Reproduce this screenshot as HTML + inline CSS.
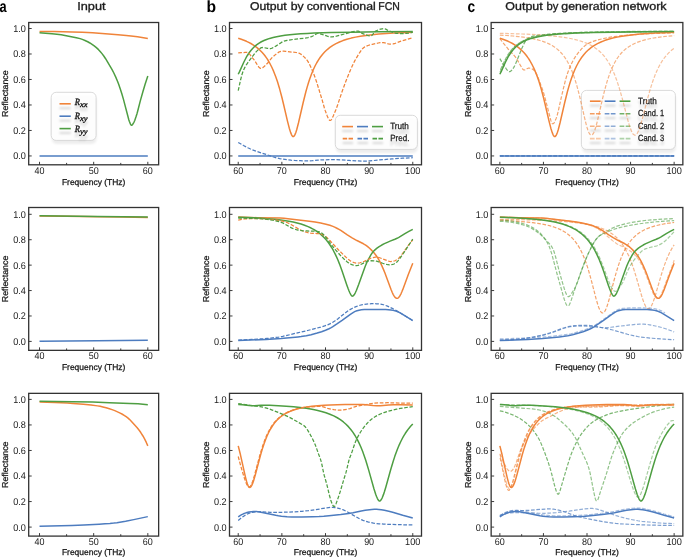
<!DOCTYPE html><html><head><meta charset="utf-8"><style>html,body{margin:0;padding:0;background:#fff;overflow:hidden}svg{display:block;will-change:transform;text-rendering:geometricPrecision}</style></head><body><svg width="685" height="557" viewBox="0 0 685 557">
<defs><filter id="sh" x="-20%" y="-200%" width="140%" height="500%"><feGaussianBlur stdDeviation="1.0"/></filter><filter id="sh2" x="-20%" y="-50%" width="140%" height="200%"><feGaussianBlur stdDeviation="1.1"/></filter>
<clipPath id="cpa0"><rect x="28.70" y="22.50" width="129.95" height="142.30"/></clipPath>
<clipPath id="cpa1"><rect x="28.70" y="207.50" width="129.95" height="142.85"/></clipPath>
<clipPath id="cpa2"><rect x="28.70" y="393.35" width="129.95" height="142.75"/></clipPath>
<clipPath id="cpb0"><rect x="229.50" y="22.50" width="192.00" height="142.30"/></clipPath>
<clipPath id="cpb1"><rect x="229.50" y="207.50" width="192.00" height="142.85"/></clipPath>
<clipPath id="cpb2"><rect x="229.50" y="393.35" width="192.00" height="142.75"/></clipPath>
<clipPath id="cpc0"><rect x="491.15" y="22.50" width="191.70" height="142.30"/></clipPath>
<clipPath id="cpc1"><rect x="491.15" y="207.50" width="191.70" height="142.85"/></clipPath>
<clipPath id="cpc2"><rect x="491.15" y="393.35" width="191.70" height="142.75"/></clipPath>
</defs>
<rect width="685" height="557" fill="#ffffff"/>
<text x="-0.52" y="11.50" font-size="16.20" text-anchor="start" font-weight="bold" font-style="normal" font-family='"Liberation Sans", sans-serif' fill="#000" textLength="7.11" lengthAdjust="spacingAndGlyphs">a</text>
<text x="206.38" y="11.50" font-size="16.20" text-anchor="start" font-weight="bold" font-style="normal" font-family='"Liberation Sans", sans-serif' fill="#000" textLength="9.56" lengthAdjust="spacingAndGlyphs">b</text>
<text x="467.62" y="11.50" font-size="16.20" text-anchor="start" font-weight="bold" font-style="normal" font-family='"Liberation Sans", sans-serif' fill="#000" textLength="7.64" lengthAdjust="spacingAndGlyphs">c</text>
<text x="77.25" y="10.10" font-size="11.30" text-anchor="start" font-weight="normal" font-style="normal" font-family='"Liberation Sans", sans-serif' fill="#1a1a1a" textLength="28.30" lengthAdjust="spacingAndGlyphs" stroke="#1a1a1a" stroke-width="0.32">Input</text>
<text x="249.95" y="9.95" font-size="11.30" text-anchor="start" font-weight="normal" font-style="normal" font-family='"Liberation Sans", sans-serif' fill="#1a1a1a" textLength="36.78" lengthAdjust="spacingAndGlyphs" stroke="#1a1a1a" stroke-width="0.32">Output</text>
<text x="290.66" y="9.95" font-size="11.30" text-anchor="start" font-weight="normal" font-style="normal" font-family='"Liberation Sans", sans-serif' fill="#1a1a1a" textLength="12.95" lengthAdjust="spacingAndGlyphs" stroke="#1a1a1a" stroke-width="0.32">by</text>
<text x="306.71" y="9.95" font-size="11.30" text-anchor="start" font-weight="normal" font-style="normal" font-family='"Liberation Sans", sans-serif' fill="#1a1a1a" textLength="69.03" lengthAdjust="spacingAndGlyphs" stroke="#1a1a1a" stroke-width="0.32">conventional</text>
<text x="378.26" y="9.95" font-size="11.30" text-anchor="start" font-weight="normal" font-style="normal" font-family='"Liberation Sans", sans-serif' fill="#1a1a1a" textLength="21.53" lengthAdjust="spacingAndGlyphs" stroke="#1a1a1a" stroke-width="0.32">FCN</text>
<text x="505.34" y="9.95" font-size="11.30" text-anchor="start" font-weight="normal" font-style="normal" font-family='"Liberation Sans", sans-serif' fill="#1a1a1a" textLength="37.38" lengthAdjust="spacingAndGlyphs" stroke="#1a1a1a" stroke-width="0.32">Output</text>
<text x="546.62" y="9.95" font-size="11.30" text-anchor="start" font-weight="normal" font-style="normal" font-family='"Liberation Sans", sans-serif' fill="#1a1a1a" textLength="11.89" lengthAdjust="spacingAndGlyphs" stroke="#1a1a1a" stroke-width="0.32">by</text>
<text x="561.31" y="9.95" font-size="11.30" text-anchor="start" font-weight="normal" font-style="normal" font-family='"Liberation Sans", sans-serif' fill="#1a1a1a" textLength="58.25" lengthAdjust="spacingAndGlyphs" stroke="#1a1a1a" stroke-width="0.32">generation</text>
<text x="622.58" y="9.95" font-size="11.30" text-anchor="start" font-weight="normal" font-style="normal" font-family='"Liberation Sans", sans-serif' fill="#1a1a1a" textLength="44.07" lengthAdjust="spacingAndGlyphs" stroke="#1a1a1a" stroke-width="0.32">network</text>
<rect x="51.70" y="95.80" width="44.90" height="48.10" rx="5" fill="#000" fill-opacity="0.07" filter="url(#sh2)"/>
<rect x="51.20" y="92.30" width="44.90" height="48.10" rx="5" fill="#ffffff" fill-opacity="0.85" stroke="#d0d0d0" stroke-width="0.8"/>
<rect x="59.50" y="107.30" width="11.30" height="1.8" fill="#000" fill-opacity="0.16" filter="url(#sh)"/>
<path d="M59.50 103.80H70.80" stroke="#f0843a" stroke-width="1.6" stroke-opacity="1.00"/>
<g opacity="0.13" filter="url(#sh2)" fill="#000" stroke="#000" stroke-width="0.50" font-style="italic" font-family='"Liberation Serif", serif'>
<text x="74.70" y="109.20" font-size="9.6" textLength="5.2" lengthAdjust="spacingAndGlyphs">R</text>
<text x="79.90" y="111.40" font-size="7.6" textLength="7.6" lengthAdjust="spacingAndGlyphs">xx</text>
</g>
<g opacity="1.00" fill="#111111" stroke="#111111" stroke-width="0.32" font-style="italic" font-family='"Liberation Serif", serif'>
<text x="74.70" y="104.80" font-size="9.6" textLength="5.2" lengthAdjust="spacingAndGlyphs">R</text>
<text x="79.90" y="107.00" font-size="7.6" textLength="7.6" lengthAdjust="spacingAndGlyphs">xx</text>
</g>
<rect x="59.50" y="119.70" width="11.30" height="1.8" fill="#000" fill-opacity="0.16" filter="url(#sh)"/>
<path d="M59.50 116.20H70.80" stroke="#4d7cbf" stroke-width="1.6" stroke-opacity="1.00"/>
<g opacity="0.13" filter="url(#sh2)" fill="#000" stroke="#000" stroke-width="0.50" font-style="italic" font-family='"Liberation Serif", serif'>
<text x="74.70" y="122.90" font-size="9.6" textLength="5.2" lengthAdjust="spacingAndGlyphs">R</text>
<text x="79.90" y="125.10" font-size="7.6" textLength="7.6" lengthAdjust="spacingAndGlyphs">xy</text>
</g>
<g opacity="1.00" fill="#111111" stroke="#111111" stroke-width="0.32" font-style="italic" font-family='"Liberation Serif", serif'>
<text x="74.70" y="118.50" font-size="9.6" textLength="5.2" lengthAdjust="spacingAndGlyphs">R</text>
<text x="79.90" y="120.70" font-size="7.6" textLength="7.6" lengthAdjust="spacingAndGlyphs">xy</text>
</g>
<rect x="59.50" y="132.10" width="11.30" height="1.8" fill="#000" fill-opacity="0.16" filter="url(#sh)"/>
<path d="M59.50 128.60H70.80" stroke="#4e9e42" stroke-width="1.6" stroke-opacity="1.00"/>
<g opacity="0.13" filter="url(#sh2)" fill="#000" stroke="#000" stroke-width="0.50" font-style="italic" font-family='"Liberation Serif", serif'>
<text x="74.70" y="136.50" font-size="9.6" textLength="5.2" lengthAdjust="spacingAndGlyphs">R</text>
<text x="79.90" y="138.70" font-size="7.6" textLength="7.6" lengthAdjust="spacingAndGlyphs">yy</text>
</g>
<g opacity="1.00" fill="#111111" stroke="#111111" stroke-width="0.32" font-style="italic" font-family='"Liberation Serif", serif'>
<text x="74.70" y="132.10" font-size="9.6" textLength="5.2" lengthAdjust="spacingAndGlyphs">R</text>
<text x="79.90" y="134.30" font-size="7.6" textLength="7.6" lengthAdjust="spacingAndGlyphs">yy</text>
</g>
<g clip-path="url(#cpa0)" fill="none" stroke-linejoin="round" stroke-linecap="butt">
<path d="M39.53 31.43L54.15 31.59L72.02 31.94L82.30 32.29L92.59 32.87L118.04 34.73L126.16 35.44L131.04 35.99L137.53 36.86L147.82 38.44" stroke="#f0843a" stroke-width="1.50"/>
<path d="M39.53 155.95L147.82 155.95" stroke="#4d7cbf" stroke-width="1.50"/>
<path d="M39.53 32.71L45.49 33.16L51.98 33.75L56.86 34.26L61.19 34.82L64.98 35.48L76.35 37.73L80.14 38.61L82.30 39.35L85.01 40.49L87.72 41.78L89.88 42.98L92.05 44.35L94.22 45.91L96.38 47.67L98.55 49.67L100.17 51.41L101.80 53.39L103.96 56.28L105.59 58.72L110.46 66.84L112.08 69.65L113.71 72.73L115.87 77.37L117.50 81.23L118.58 84.05L120.21 88.73L121.83 93.79L123.46 99.38L128.87 120.00L129.41 121.54L130.49 124.09L131.04 125.00L131.58 125.36L132.12 125.10L132.66 124.42L133.74 122.56L134.28 121.49L134.83 120.17L135.91 117.08L136.99 113.66L137.53 111.72L140.24 101.13L142.95 91.44L145.11 84.23L147.82 75.91" stroke="#4e9e42" stroke-width="1.50"/>
</g>
<rect x="28.70" y="22.50" width="129.95" height="142.30" fill="none" stroke="#333333" stroke-width="1.3"/>
<path d="M39.53 164.80V161.80M93.68 164.80V161.80M147.82 164.80V161.80M66.60 164.80V162.90M120.75 164.80V162.90M28.70 155.95H31.70M28.70 130.46H31.70M28.70 104.97H31.70M28.70 79.48H31.70M28.70 53.99H31.70M28.70 28.50H31.70" stroke="#333333" stroke-width="0.95" fill="none"/>
<text x="25.90" y="159.35" font-size="9.80" text-anchor="end" font-weight="normal" font-style="normal" font-family='"Liberation Sans", sans-serif' fill="#1a1a1a" textLength="12.70" lengthAdjust="spacingAndGlyphs">0.0</text>
<text x="25.90" y="133.86" font-size="9.80" text-anchor="end" font-weight="normal" font-style="normal" font-family='"Liberation Sans", sans-serif' fill="#1a1a1a" textLength="12.70" lengthAdjust="spacingAndGlyphs">0.2</text>
<text x="25.90" y="108.37" font-size="9.80" text-anchor="end" font-weight="normal" font-style="normal" font-family='"Liberation Sans", sans-serif' fill="#1a1a1a" textLength="12.70" lengthAdjust="spacingAndGlyphs">0.4</text>
<text x="25.90" y="82.88" font-size="9.80" text-anchor="end" font-weight="normal" font-style="normal" font-family='"Liberation Sans", sans-serif' fill="#1a1a1a" textLength="12.70" lengthAdjust="spacingAndGlyphs">0.6</text>
<text x="25.90" y="57.39" font-size="9.80" text-anchor="end" font-weight="normal" font-style="normal" font-family='"Liberation Sans", sans-serif' fill="#1a1a1a" textLength="12.70" lengthAdjust="spacingAndGlyphs">0.8</text>
<text x="25.90" y="31.90" font-size="9.80" text-anchor="end" font-weight="normal" font-style="normal" font-family='"Liberation Sans", sans-serif' fill="#1a1a1a" textLength="12.70" lengthAdjust="spacingAndGlyphs">1.0</text>
<text x="39.53" y="173.80" font-size="9.80" text-anchor="middle" font-weight="normal" font-style="normal" font-family='"Liberation Sans", sans-serif' fill="#1a1a1a" textLength="10.00" lengthAdjust="spacingAndGlyphs">40</text>
<text x="93.68" y="173.80" font-size="9.80" text-anchor="middle" font-weight="normal" font-style="normal" font-family='"Liberation Sans", sans-serif' fill="#1a1a1a" textLength="10.00" lengthAdjust="spacingAndGlyphs">50</text>
<text x="147.82" y="173.80" font-size="9.80" text-anchor="middle" font-weight="normal" font-style="normal" font-family='"Liberation Sans", sans-serif' fill="#1a1a1a" textLength="10.00" lengthAdjust="spacingAndGlyphs">60</text>
<text x="93.67" y="184.90" font-size="8.60" text-anchor="middle" font-weight="normal" font-style="normal" font-family='"Liberation Sans", sans-serif' fill="#1a1a1a" textLength="63.50" lengthAdjust="spacingAndGlyphs" stroke="#1a1a1a" stroke-width="0.28">Frequency (THz)</text>
<text transform="translate(8.10 93.65) rotate(-90)" font-size="8.6" text-anchor="middle" font-family='"Liberation Sans", sans-serif' fill="#1a1a1a" stroke="#1a1a1a" stroke-width="0.28" textLength="46.5" lengthAdjust="spacingAndGlyphs">Reflectance</text>
<g clip-path="url(#cpa1)" fill="none" stroke-linejoin="round" stroke-linecap="butt">
<path d="M39.53 216.08L66.60 216.29L98.55 216.65L121.83 217.00L147.82 217.48" stroke="#f0843a" stroke-width="1.50"/>
<path d="M39.53 341.15L96.92 340.74L147.82 340.26" stroke="#4d7cbf" stroke-width="1.50"/>
<path d="M39.53 215.83L97.47 216.38L147.82 217.10" stroke="#4e9e42" stroke-width="1.50"/>
</g>
<rect x="28.70" y="207.50" width="129.95" height="142.85" fill="none" stroke="#333333" stroke-width="1.3"/>
<path d="M39.53 350.35V347.35M93.68 350.35V347.35M147.82 350.35V347.35M66.60 350.35V348.45M120.75 350.35V348.45M28.70 341.40H31.70M28.70 315.98H31.70M28.70 290.56H31.70M28.70 265.14H31.70M28.70 239.72H31.70M28.70 214.30H31.70" stroke="#333333" stroke-width="0.95" fill="none"/>
<text x="25.90" y="344.80" font-size="9.80" text-anchor="end" font-weight="normal" font-style="normal" font-family='"Liberation Sans", sans-serif' fill="#1a1a1a" textLength="12.70" lengthAdjust="spacingAndGlyphs">0.0</text>
<text x="25.90" y="319.38" font-size="9.80" text-anchor="end" font-weight="normal" font-style="normal" font-family='"Liberation Sans", sans-serif' fill="#1a1a1a" textLength="12.70" lengthAdjust="spacingAndGlyphs">0.2</text>
<text x="25.90" y="293.96" font-size="9.80" text-anchor="end" font-weight="normal" font-style="normal" font-family='"Liberation Sans", sans-serif' fill="#1a1a1a" textLength="12.70" lengthAdjust="spacingAndGlyphs">0.4</text>
<text x="25.90" y="268.54" font-size="9.80" text-anchor="end" font-weight="normal" font-style="normal" font-family='"Liberation Sans", sans-serif' fill="#1a1a1a" textLength="12.70" lengthAdjust="spacingAndGlyphs">0.6</text>
<text x="25.90" y="243.12" font-size="9.80" text-anchor="end" font-weight="normal" font-style="normal" font-family='"Liberation Sans", sans-serif' fill="#1a1a1a" textLength="12.70" lengthAdjust="spacingAndGlyphs">0.8</text>
<text x="25.90" y="217.70" font-size="9.80" text-anchor="end" font-weight="normal" font-style="normal" font-family='"Liberation Sans", sans-serif' fill="#1a1a1a" textLength="12.70" lengthAdjust="spacingAndGlyphs">1.0</text>
<text x="39.53" y="359.35" font-size="9.80" text-anchor="middle" font-weight="normal" font-style="normal" font-family='"Liberation Sans", sans-serif' fill="#1a1a1a" textLength="10.00" lengthAdjust="spacingAndGlyphs">40</text>
<text x="93.68" y="359.35" font-size="9.80" text-anchor="middle" font-weight="normal" font-style="normal" font-family='"Liberation Sans", sans-serif' fill="#1a1a1a" textLength="10.00" lengthAdjust="spacingAndGlyphs">50</text>
<text x="147.82" y="359.35" font-size="9.80" text-anchor="middle" font-weight="normal" font-style="normal" font-family='"Liberation Sans", sans-serif' fill="#1a1a1a" textLength="10.00" lengthAdjust="spacingAndGlyphs">60</text>
<text x="93.67" y="370.30" font-size="8.60" text-anchor="middle" font-weight="normal" font-style="normal" font-family='"Liberation Sans", sans-serif' fill="#1a1a1a" textLength="63.50" lengthAdjust="spacingAndGlyphs" stroke="#1a1a1a" stroke-width="0.28">Frequency (THz)</text>
<text transform="translate(8.10 278.93) rotate(-90)" font-size="8.6" text-anchor="middle" font-family='"Liberation Sans", sans-serif' fill="#1a1a1a" stroke="#1a1a1a" stroke-width="0.28" textLength="46.5" lengthAdjust="spacingAndGlyphs">Reflectance</text>
<g clip-path="url(#cpa2)" fill="none" stroke-linejoin="round" stroke-linecap="butt">
<path d="M39.53 401.95L54.69 402.40L67.14 403.01L73.10 403.42L83.39 404.27L90.97 405.00L97.47 405.88L100.17 406.35L102.88 406.92L106.13 407.76L109.38 408.73L112.08 409.63L114.79 410.66L117.50 411.82L120.21 413.10L122.37 414.26L124.54 415.56L126.16 416.66L127.79 417.87L129.41 419.33L131.04 421.01L136.99 427.57L139.16 430.27L140.78 432.55L142.95 435.99L144.57 438.88L146.20 442.19L147.82 445.88" stroke="#f0843a" stroke-width="1.50"/>
<path d="M39.53 526.33L72.02 525.42L83.93 525.00L99.09 524.25L105.05 523.86L109.92 523.47L113.71 523.08L116.96 522.65L125.62 521.22L133.74 519.62L147.82 516.63" stroke="#4d7cbf" stroke-width="1.50"/>
<path d="M39.53 401.32L72.56 401.65L92.59 402.03L109.38 402.70L129.95 403.39L138.07 403.86L147.82 404.64" stroke="#4e9e42" stroke-width="1.50"/>
</g>
<rect x="28.70" y="393.35" width="129.95" height="142.75" fill="none" stroke="#333333" stroke-width="1.3"/>
<path d="M39.53 536.10V533.10M93.68 536.10V533.10M147.82 536.10V533.10M66.60 536.10V534.20M120.75 536.10V534.20M28.70 527.10H31.70M28.70 501.56H31.70M28.70 476.02H31.70M28.70 450.48H31.70M28.70 424.94H31.70M28.70 399.40H31.70" stroke="#333333" stroke-width="0.95" fill="none"/>
<text x="25.90" y="530.50" font-size="9.80" text-anchor="end" font-weight="normal" font-style="normal" font-family='"Liberation Sans", sans-serif' fill="#1a1a1a" textLength="12.70" lengthAdjust="spacingAndGlyphs">0.0</text>
<text x="25.90" y="504.96" font-size="9.80" text-anchor="end" font-weight="normal" font-style="normal" font-family='"Liberation Sans", sans-serif' fill="#1a1a1a" textLength="12.70" lengthAdjust="spacingAndGlyphs">0.2</text>
<text x="25.90" y="479.42" font-size="9.80" text-anchor="end" font-weight="normal" font-style="normal" font-family='"Liberation Sans", sans-serif' fill="#1a1a1a" textLength="12.70" lengthAdjust="spacingAndGlyphs">0.4</text>
<text x="25.90" y="453.88" font-size="9.80" text-anchor="end" font-weight="normal" font-style="normal" font-family='"Liberation Sans", sans-serif' fill="#1a1a1a" textLength="12.70" lengthAdjust="spacingAndGlyphs">0.6</text>
<text x="25.90" y="428.34" font-size="9.80" text-anchor="end" font-weight="normal" font-style="normal" font-family='"Liberation Sans", sans-serif' fill="#1a1a1a" textLength="12.70" lengthAdjust="spacingAndGlyphs">0.8</text>
<text x="25.90" y="402.80" font-size="9.80" text-anchor="end" font-weight="normal" font-style="normal" font-family='"Liberation Sans", sans-serif' fill="#1a1a1a" textLength="12.70" lengthAdjust="spacingAndGlyphs">1.0</text>
<text x="39.53" y="545.10" font-size="9.80" text-anchor="middle" font-weight="normal" font-style="normal" font-family='"Liberation Sans", sans-serif' fill="#1a1a1a" textLength="10.00" lengthAdjust="spacingAndGlyphs">40</text>
<text x="93.68" y="545.10" font-size="9.80" text-anchor="middle" font-weight="normal" font-style="normal" font-family='"Liberation Sans", sans-serif' fill="#1a1a1a" textLength="10.00" lengthAdjust="spacingAndGlyphs">50</text>
<text x="147.82" y="545.10" font-size="9.80" text-anchor="middle" font-weight="normal" font-style="normal" font-family='"Liberation Sans", sans-serif' fill="#1a1a1a" textLength="10.00" lengthAdjust="spacingAndGlyphs">60</text>
<text x="93.67" y="555.00" font-size="8.60" text-anchor="middle" font-weight="normal" font-style="normal" font-family='"Liberation Sans", sans-serif' fill="#1a1a1a" textLength="63.50" lengthAdjust="spacingAndGlyphs" stroke="#1a1a1a" stroke-width="0.28">Frequency (THz)</text>
<text transform="translate(8.10 464.73) rotate(-90)" font-size="8.6" text-anchor="middle" font-family='"Liberation Sans", sans-serif' fill="#1a1a1a" stroke="#1a1a1a" stroke-width="0.28" textLength="46.5" lengthAdjust="spacingAndGlyphs">Reflectance</text>
<rect x="335.80" y="118.80" width="82.10" height="34.10" rx="5" fill="#000" fill-opacity="0.07" filter="url(#sh2)"/>
<rect x="335.30" y="115.30" width="82.10" height="34.10" rx="5" fill="#ffffff" fill-opacity="0.85" stroke="#d0d0d0" stroke-width="0.8"/>
<rect x="342.20" y="130.10" width="10.80" height="1.8" fill="#000" fill-opacity="0.16" filter="url(#sh)"/>
<path d="M342.20 126.60H353.00" stroke="#f0843a" stroke-width="1.6" stroke-opacity="1.00"/>
<rect x="357.00" y="130.10" width="11.00" height="1.8" fill="#000" fill-opacity="0.16" filter="url(#sh)"/>
<path d="M357.00 126.60H368.00" stroke="#4d7cbf" stroke-width="1.6" stroke-opacity="1.00"/>
<rect x="372.00" y="130.10" width="11.00" height="1.8" fill="#000" fill-opacity="0.16" filter="url(#sh)"/>
<path d="M372.00 126.60H383.00" stroke="#4e9e42" stroke-width="1.6" stroke-opacity="1.00"/>
<rect x="342.70" y="142.10" width="10.30" height="1.8" fill="#000" fill-opacity="0.16" filter="url(#sh)"/>
<path d="M342.70 138.60H347.15M348.55 138.60H353.00" stroke="#f0843a" stroke-width="1.55" stroke-opacity="1.00"/>
<rect x="357.50" y="142.10" width="10.50" height="1.8" fill="#000" fill-opacity="0.16" filter="url(#sh)"/>
<path d="M357.50 138.60H362.05M363.45 138.60H368.00" stroke="#4d7cbf" stroke-width="1.55" stroke-opacity="1.00"/>
<rect x="372.50" y="142.10" width="10.50" height="1.8" fill="#000" fill-opacity="0.16" filter="url(#sh)"/>
<path d="M372.50 138.60H377.05M378.45 138.60H383.00" stroke="#4e9e42" stroke-width="1.55" stroke-opacity="1.00"/>
<text x="390.20" y="133.50" font-size="9.00" text-anchor="start" font-weight="normal" font-style="normal" font-family='"Liberation Sans", sans-serif' fill="#000" textLength="18.70" lengthAdjust="spacingAndGlyphs" opacity="0.13" stroke="#000" stroke-width="0.5" filter="url(#sh2)">Truth</text>
<text x="390.20" y="129.10" font-size="9.00" text-anchor="start" font-weight="normal" font-style="normal" font-family='"Liberation Sans", sans-serif' fill="#1a1a1a" textLength="18.70" lengthAdjust="spacingAndGlyphs" stroke="#1a1a1a" stroke-width="0.25">Truth</text>
<text x="390.20" y="145.80" font-size="9.00" text-anchor="start" font-weight="normal" font-style="normal" font-family='"Liberation Sans", sans-serif' fill="#000" textLength="19.20" lengthAdjust="spacingAndGlyphs" opacity="0.13" stroke="#000" stroke-width="0.5" filter="url(#sh2)">Pred.</text>
<text x="390.20" y="141.40" font-size="9.00" text-anchor="start" font-weight="normal" font-style="normal" font-family='"Liberation Sans", sans-serif' fill="#1a1a1a" textLength="19.20" lengthAdjust="spacingAndGlyphs" stroke="#1a1a1a" stroke-width="0.25">Pred.</text>
<g clip-path="url(#cpb0)" fill="none" stroke-linejoin="round" stroke-linecap="butt">
<path d="M238.23 38.22L241.28 39.22L243.90 40.20L246.52 41.31L248.70 42.35L250.88 43.51L253.06 44.82L255.25 46.30L256.99 47.62L258.74 49.08L260.48 50.70L262.23 52.51L263.97 54.54L265.72 56.81L267.03 58.69L268.34 60.75L269.65 63.01L271.83 67.25L273.57 71.15L275.75 76.73L277.50 81.84L279.68 89.08L281.86 97.28L283.61 104.45L287.54 121.35L289.28 128.16L290.59 132.39L291.46 134.56L291.90 135.42L292.34 136.09L292.77 136.52L293.21 136.62L293.65 136.60L294.08 136.12L294.52 135.48L294.95 134.63L295.83 132.44L296.70 129.69L298.45 123.04L303.25 102.22L305.86 91.78L307.17 87.08L308.48 82.74L309.79 78.76L311.54 73.97L313.28 69.75L315.03 66.02L316.77 62.74L318.52 59.83L320.26 57.27L322.45 54.46L324.63 52.04L327.25 49.55L329.86 47.44L332.92 45.37L335.97 43.63L339.46 41.96L342.95 40.58L346.88 39.28L351.25 38.10L355.61 37.12L360.41 36.24L366.08 35.39L372.19 34.66L378.74 34.04L386.15 33.49L394.01 33.03L402.74 32.63L412.77 32.29" stroke="#f0843a" stroke-width="1.50"/>
<path d="M238.23 155.95L412.77 155.95" stroke="#4d7cbf" stroke-width="1.50"/>
<path d="M238.23 74.25L239.54 71.66L243.90 62.01L246.08 57.74L247.39 55.47L249.14 52.78L250.88 50.46L252.63 48.45L254.37 46.71L256.55 44.86L258.74 43.31L261.35 41.77L263.97 40.49L266.59 39.43L269.65 38.41L273.14 37.46L276.63 36.68L280.55 35.97L284.92 35.33L289.72 34.76L294.95 34.27L300.63 33.84L307.17 33.45L314.15 33.11L331.17 32.55L352.12 32.13L378.74 31.82L412.77 31.58" stroke="#4e9e42" stroke-width="1.50"/>
<path d="M238.23 52.97L241.28 52.60L245.21 52.46L246.95 52.46L247.39 52.51L247.83 52.67L248.26 52.92L249.14 53.64L250.01 54.59L252.63 58.03L253.94 59.61L255.25 61.53L257.43 65.12L258.74 66.96L259.61 67.84L260.05 68.14L260.48 68.33L260.92 68.39L261.35 68.35L262.23 68.03L262.66 67.78L263.54 67.12L267.46 63.30L268.34 62.27L270.95 58.89L272.26 57.44L275.75 54.38L277.06 53.32L278.81 52.13L280.12 51.52L281.43 51.21L283.61 51.24L285.79 51.42L296.26 52.50L298.01 52.81L298.88 53.10L300.19 53.76L301.50 54.64L302.81 55.71L304.55 57.37L306.30 59.22L307.17 60.31L308.05 61.64L309.35 64.03L310.66 66.75L311.97 69.69L313.28 72.74L314.15 74.95L315.46 78.58L316.77 82.50L322.01 99.49L324.19 107.28L325.06 110.14L327.25 116.03L328.12 118.13L328.55 119.00L328.99 119.71L329.43 120.21L329.86 120.48L330.30 120.49L330.74 120.27L331.17 119.86L331.61 119.28L332.48 117.71L333.35 115.75L335.97 109.44L337.72 104.74L341.65 92.82L345.14 83.17L346.45 79.74L348.19 75.46L350.37 70.25L352.12 66.27L353.43 63.48L354.74 60.90L355.61 59.32L358.23 54.91L359.54 52.79L360.85 50.83L362.15 49.12L363.03 48.17L363.90 47.41L364.77 46.85L366.52 46.05L368.70 45.26L372.19 44.32L378.30 43.00L380.05 42.69L381.79 42.53L382.66 42.53L383.54 42.62L384.85 42.88L388.34 43.82L390.08 44.13L391.39 44.17L393.14 43.92L395.32 43.29L400.99 41.12L412.77 37.80" stroke="#f0843a" stroke-width="1.25" stroke-dasharray="3.7 1.65"/>
<path d="M238.23 142.44L243.46 145.51L247.83 147.78L250.01 148.79L252.19 149.71L257.43 151.62L266.15 154.45L273.57 157.01L277.06 158.05L279.68 158.64L282.74 159.16L287.10 159.76L291.03 160.18L294.52 160.43L300.19 160.70L304.99 160.86L308.92 160.90L312.41 160.74L318.08 160.14L321.14 159.92L328.99 159.71L335.97 159.66L340.34 159.82L349.06 160.45L358.23 160.98L362.15 161.13L365.65 161.14L370.01 160.89L379.61 159.91L391.83 158.91L402.74 158.22L412.77 157.73" stroke="#4d7cbf" stroke-width="1.25" stroke-dasharray="3.7 1.65"/>
<path d="M238.23 90.70L240.41 80.65L241.28 77.11L242.15 74.00L243.03 71.39L243.46 70.30L244.34 68.41L245.21 66.73L246.52 64.54L247.83 62.63L253.50 55.03L255.25 52.83L256.55 51.36L257.86 50.13L260.05 48.42L260.92 47.86L261.35 47.67L261.79 47.54L262.23 47.49L263.10 47.53L264.41 47.71L267.46 48.34L268.77 48.55L270.08 48.64L270.95 48.53L272.26 48.04L276.19 45.87L277.50 45.06L281.43 42.40L282.74 41.67L284.05 41.12L287.10 40.38L290.59 39.78L295.83 39.10L304.12 38.30L306.30 37.97L308.05 37.61L309.79 37.17L311.54 36.63L312.85 35.97L315.90 34.10L316.77 33.72L317.65 33.50L318.08 33.47L318.95 33.54L320.26 33.83L323.75 34.87L327.25 36.10L328.99 36.63L330.74 36.90L332.05 36.88L334.23 36.62L336.41 36.13L341.21 34.79L345.14 33.82L350.37 32.30L352.99 31.63L355.61 31.18L357.79 31.05L358.23 31.09L359.10 31.42L362.15 33.40L365.21 34.60L366.95 35.20L368.26 35.56L369.57 35.80L370.88 35.89L371.32 35.80L371.75 35.53L372.19 35.13L374.81 31.75L375.25 31.33L375.68 31.05L378.30 29.89L380.48 29.15L382.23 28.77L383.97 28.63L384.85 28.76L385.72 29.11L388.34 30.65L389.21 31.05L393.57 32.59L395.32 33.06L396.63 33.29L398.81 33.50L400.55 33.59L404.48 33.50L406.66 33.33L408.85 33.07L411.03 32.70L412.77 32.32" stroke="#4e9e42" stroke-width="1.25" stroke-dasharray="3.7 1.65"/>
</g>
<rect x="229.50" y="22.50" width="192.00" height="142.30" fill="none" stroke="#333333" stroke-width="1.3"/>
<path d="M238.23 164.80V161.80M281.86 164.80V161.80M325.50 164.80V161.80M369.14 164.80V161.80M412.77 164.80V161.80M260.05 164.80V162.90M303.68 164.80V162.90M347.32 164.80V162.90M390.95 164.80V162.90M229.50 155.95H232.50M229.50 130.46H232.50M229.50 104.97H232.50M229.50 79.48H232.50M229.50 53.99H232.50M229.50 28.50H232.50" stroke="#333333" stroke-width="0.95" fill="none"/>
<text x="226.70" y="159.35" font-size="9.80" text-anchor="end" font-weight="normal" font-style="normal" font-family='"Liberation Sans", sans-serif' fill="#1a1a1a" textLength="12.70" lengthAdjust="spacingAndGlyphs">0.0</text>
<text x="226.70" y="133.86" font-size="9.80" text-anchor="end" font-weight="normal" font-style="normal" font-family='"Liberation Sans", sans-serif' fill="#1a1a1a" textLength="12.70" lengthAdjust="spacingAndGlyphs">0.2</text>
<text x="226.70" y="108.37" font-size="9.80" text-anchor="end" font-weight="normal" font-style="normal" font-family='"Liberation Sans", sans-serif' fill="#1a1a1a" textLength="12.70" lengthAdjust="spacingAndGlyphs">0.4</text>
<text x="226.70" y="82.88" font-size="9.80" text-anchor="end" font-weight="normal" font-style="normal" font-family='"Liberation Sans", sans-serif' fill="#1a1a1a" textLength="12.70" lengthAdjust="spacingAndGlyphs">0.6</text>
<text x="226.70" y="57.39" font-size="9.80" text-anchor="end" font-weight="normal" font-style="normal" font-family='"Liberation Sans", sans-serif' fill="#1a1a1a" textLength="12.70" lengthAdjust="spacingAndGlyphs">0.8</text>
<text x="226.70" y="31.90" font-size="9.80" text-anchor="end" font-weight="normal" font-style="normal" font-family='"Liberation Sans", sans-serif' fill="#1a1a1a" textLength="12.70" lengthAdjust="spacingAndGlyphs">1.0</text>
<text x="238.23" y="173.80" font-size="9.80" text-anchor="middle" font-weight="normal" font-style="normal" font-family='"Liberation Sans", sans-serif' fill="#1a1a1a" textLength="10.00" lengthAdjust="spacingAndGlyphs">60</text>
<text x="281.86" y="173.80" font-size="9.80" text-anchor="middle" font-weight="normal" font-style="normal" font-family='"Liberation Sans", sans-serif' fill="#1a1a1a" textLength="10.00" lengthAdjust="spacingAndGlyphs">70</text>
<text x="325.50" y="173.80" font-size="9.80" text-anchor="middle" font-weight="normal" font-style="normal" font-family='"Liberation Sans", sans-serif' fill="#1a1a1a" textLength="10.00" lengthAdjust="spacingAndGlyphs">80</text>
<text x="369.14" y="173.80" font-size="9.80" text-anchor="middle" font-weight="normal" font-style="normal" font-family='"Liberation Sans", sans-serif' fill="#1a1a1a" textLength="10.00" lengthAdjust="spacingAndGlyphs">90</text>
<text x="412.77" y="173.80" font-size="9.80" text-anchor="middle" font-weight="normal" font-style="normal" font-family='"Liberation Sans", sans-serif' fill="#1a1a1a" textLength="15.30" lengthAdjust="spacingAndGlyphs">100</text>
<text x="325.50" y="184.90" font-size="8.60" text-anchor="middle" font-weight="normal" font-style="normal" font-family='"Liberation Sans", sans-serif' fill="#1a1a1a" textLength="63.50" lengthAdjust="spacingAndGlyphs" stroke="#1a1a1a" stroke-width="0.28">Frequency (THz)</text>
<text transform="translate(208.90 93.65) rotate(-90)" font-size="8.6" text-anchor="middle" font-family='"Liberation Sans", sans-serif' fill="#1a1a1a" stroke="#1a1a1a" stroke-width="0.28" textLength="46.5" lengthAdjust="spacingAndGlyphs">Reflectance</text>
<g clip-path="url(#cpb1)" fill="none" stroke-linejoin="round" stroke-linecap="butt">
<path d="M238.23 217.10L257.43 217.70L280.12 218.09L284.05 218.28L287.97 218.66L309.35 221.20L315.03 222.04L320.70 223.06L325.94 224.17L329.86 225.23L332.92 226.36L334.66 227.14L336.85 228.22L339.03 229.40L340.77 230.45L347.32 234.91L351.68 237.59L356.92 240.53L363.46 243.78L365.65 245.09L367.39 246.37L369.57 248.25L371.75 250.40L373.94 252.79L376.12 255.54L377.86 258.13L379.61 261.18L381.79 265.64L383.54 269.60L384.85 272.82L386.59 277.41L390.95 289.33L392.26 292.52L393.14 294.36L394.01 295.91L394.88 297.12L395.75 297.94L396.19 298.19L396.63 298.33L397.06 298.36L397.50 298.27L397.94 298.07L398.37 297.75L398.81 297.33L399.68 296.18L400.99 293.78L401.86 291.82L402.74 289.65L408.41 274.34L412.77 263.23" stroke="#f0843a" stroke-width="1.50"/>
<path d="M238.23 340.51L266.15 339.46L273.57 339.05L280.99 338.53L298.01 336.90L301.06 336.55L306.30 335.72L311.10 334.68L317.21 333.04L321.57 331.70L325.50 330.27L328.99 328.74L330.74 327.83L332.48 326.81L337.28 323.71L342.08 320.37L350.37 314.32L353.43 312.30L355.17 311.41L356.92 310.74L359.10 310.16L361.28 309.82L364.34 309.59L369.57 309.41L374.37 309.38L380.48 309.44L385.72 309.57L388.34 309.71L390.95 309.99L393.14 310.37L394.88 310.79L396.63 311.33L398.37 312.02L399.68 312.64L401.43 313.62L407.54 317.43L412.77 320.56" stroke="#4d7cbf" stroke-width="1.50"/>
<path d="M238.23 217.37L246.52 217.58L253.94 217.86L260.92 218.21L267.46 218.64L273.57 219.16L278.81 219.72L284.05 220.41L288.85 221.19L293.21 222.05L297.14 222.97L301.06 224.07L304.55 225.24L308.05 226.62L311.10 228.05L314.15 229.71L316.77 231.38L319.39 233.30L321.57 235.14L323.75 237.22L325.94 239.60L328.12 242.31L329.86 244.75L331.61 247.47L333.35 250.49L335.10 253.85L336.41 256.60L337.72 259.57L339.46 263.86L342.08 270.96L346.88 285.15L348.19 288.81L349.06 291.03L349.94 293.01L350.81 294.63L351.25 295.27L351.68 295.76L352.12 296.06L352.55 296.15L352.99 296.01L353.43 295.68L354.30 294.56L355.17 293.03L356.48 290.19L358.66 284.56L364.77 267.41L365.65 265.20L366.95 262.25L368.70 258.80L370.88 254.93L372.19 252.93L373.50 251.32L375.25 249.61L376.99 248.16L379.17 246.61L381.79 245.02L384.41 243.67L387.90 242.09L390.08 241.17L394.88 239.28L397.06 238.29L399.25 237.09L404.92 233.60L408.85 231.40L412.77 229.30" stroke="#4e9e42" stroke-width="1.50"/>
<path d="M238.23 220.15L241.72 219.30L243.03 219.08L244.77 218.90L250.01 218.71L257.86 218.63L262.66 218.74L267.46 219.05L274.01 219.69L278.37 220.31L280.99 220.81L283.61 221.44L285.79 222.10L287.54 222.76L289.28 223.57L291.46 224.73L297.57 228.37L299.75 229.57L302.81 230.99L305.43 231.96L308.05 232.71L310.66 233.21L312.85 233.42L316.77 233.53L318.52 233.64L320.26 233.91L322.01 234.43L323.32 235.02L324.63 235.81L325.94 236.79L327.68 238.33L330.30 240.97L335.54 246.77L338.59 250.00L344.70 256.06L347.75 258.90L349.94 260.57L350.81 261.12L352.12 261.82L353.43 262.38L354.30 262.67L356.05 263.03L357.35 263.10L358.66 263.00L359.97 262.77L361.72 262.30L363.03 261.84L364.34 261.30L368.70 259.16L370.88 258.25L373.06 257.56L374.37 257.29L375.25 257.18L376.12 257.15L377.43 257.25L378.30 257.40L379.61 257.74L382.23 258.66L387.46 260.76L388.77 261.17L389.65 261.37L390.95 261.51L392.26 261.44L393.57 261.18L394.88 260.72L395.75 260.31L396.63 259.81L397.94 258.86L399.25 257.64L400.55 256.19L402.74 253.36L408.85 244.69L412.77 239.72" stroke="#f0843a" stroke-width="1.25" stroke-dasharray="3.7 1.65"/>
<path d="M238.23 340.00L251.75 339.45L263.10 338.78L267.03 338.46L270.95 338.06L278.81 337.01L282.74 336.33L287.10 335.37L298.45 332.62L307.61 330.51L320.70 327.10L324.63 325.92L327.68 324.82L330.30 323.66L332.48 322.47L335.10 320.83L337.72 318.97L344.26 313.71L347.75 311.07L349.94 309.64L352.55 308.19L354.30 307.37L356.05 306.63L358.23 305.81L359.97 305.25L362.59 304.63L366.52 304.07L369.14 303.83L371.75 303.70L373.94 303.69L376.55 303.80L379.61 304.06L381.79 304.37L383.54 304.76L385.28 305.31L387.46 306.17L390.08 307.32L392.26 308.38L394.88 309.77L398.81 312.06L412.77 320.56" stroke="#4d7cbf" stroke-width="1.25" stroke-dasharray="3.7 1.65"/>
<path d="M238.23 218.11L249.14 218.28L260.05 218.71L262.66 218.91L265.72 219.23L269.21 219.70L272.70 220.25L275.32 220.73L277.94 221.31L280.12 221.92L281.86 222.54L283.17 223.11L284.48 223.79L289.28 226.69L291.46 227.87L293.65 228.83L296.26 229.65L298.01 230.04L299.75 230.36L303.25 230.76L306.74 230.94L314.59 231.18L316.77 231.33L318.52 231.64L319.83 232.07L321.14 232.74L322.01 233.32L322.88 234.03L324.19 235.33L325.94 237.43L331.61 244.99L335.54 249.82L338.15 252.86L340.34 255.27L342.08 257.09L344.26 259.23L346.01 260.82L347.32 261.92L348.63 262.89L349.94 263.71L351.25 264.37L352.55 264.89L353.86 265.28L355.17 265.52L356.05 265.58L356.92 265.56L357.79 265.45L359.10 265.13L361.28 264.25L365.21 262.24L366.95 261.47L368.70 260.97L369.57 260.84L370.88 260.74L373.94 260.78L375.25 260.91L376.55 261.15L378.74 261.78L382.66 263.25L384.85 263.99L386.59 264.48L387.90 264.74L389.65 264.89L390.95 264.81L392.70 264.46L394.01 263.98L395.32 263.26L396.63 262.24L397.94 260.89L399.25 259.26L400.99 256.83L404.05 252.35L412.77 239.08" stroke="#4e9e42" stroke-width="1.25" stroke-dasharray="3.7 1.65"/>
</g>
<rect x="229.50" y="207.50" width="192.00" height="142.85" fill="none" stroke="#333333" stroke-width="1.3"/>
<path d="M238.23 350.35V347.35M281.86 350.35V347.35M325.50 350.35V347.35M369.14 350.35V347.35M412.77 350.35V347.35M260.05 350.35V348.45M303.68 350.35V348.45M347.32 350.35V348.45M390.95 350.35V348.45M229.50 341.40H232.50M229.50 315.98H232.50M229.50 290.56H232.50M229.50 265.14H232.50M229.50 239.72H232.50M229.50 214.30H232.50" stroke="#333333" stroke-width="0.95" fill="none"/>
<text x="226.70" y="344.80" font-size="9.80" text-anchor="end" font-weight="normal" font-style="normal" font-family='"Liberation Sans", sans-serif' fill="#1a1a1a" textLength="12.70" lengthAdjust="spacingAndGlyphs">0.0</text>
<text x="226.70" y="319.38" font-size="9.80" text-anchor="end" font-weight="normal" font-style="normal" font-family='"Liberation Sans", sans-serif' fill="#1a1a1a" textLength="12.70" lengthAdjust="spacingAndGlyphs">0.2</text>
<text x="226.70" y="293.96" font-size="9.80" text-anchor="end" font-weight="normal" font-style="normal" font-family='"Liberation Sans", sans-serif' fill="#1a1a1a" textLength="12.70" lengthAdjust="spacingAndGlyphs">0.4</text>
<text x="226.70" y="268.54" font-size="9.80" text-anchor="end" font-weight="normal" font-style="normal" font-family='"Liberation Sans", sans-serif' fill="#1a1a1a" textLength="12.70" lengthAdjust="spacingAndGlyphs">0.6</text>
<text x="226.70" y="243.12" font-size="9.80" text-anchor="end" font-weight="normal" font-style="normal" font-family='"Liberation Sans", sans-serif' fill="#1a1a1a" textLength="12.70" lengthAdjust="spacingAndGlyphs">0.8</text>
<text x="226.70" y="217.70" font-size="9.80" text-anchor="end" font-weight="normal" font-style="normal" font-family='"Liberation Sans", sans-serif' fill="#1a1a1a" textLength="12.70" lengthAdjust="spacingAndGlyphs">1.0</text>
<text x="238.23" y="359.35" font-size="9.80" text-anchor="middle" font-weight="normal" font-style="normal" font-family='"Liberation Sans", sans-serif' fill="#1a1a1a" textLength="10.00" lengthAdjust="spacingAndGlyphs">60</text>
<text x="281.86" y="359.35" font-size="9.80" text-anchor="middle" font-weight="normal" font-style="normal" font-family='"Liberation Sans", sans-serif' fill="#1a1a1a" textLength="10.00" lengthAdjust="spacingAndGlyphs">70</text>
<text x="325.50" y="359.35" font-size="9.80" text-anchor="middle" font-weight="normal" font-style="normal" font-family='"Liberation Sans", sans-serif' fill="#1a1a1a" textLength="10.00" lengthAdjust="spacingAndGlyphs">80</text>
<text x="369.14" y="359.35" font-size="9.80" text-anchor="middle" font-weight="normal" font-style="normal" font-family='"Liberation Sans", sans-serif' fill="#1a1a1a" textLength="10.00" lengthAdjust="spacingAndGlyphs">90</text>
<text x="412.77" y="359.35" font-size="9.80" text-anchor="middle" font-weight="normal" font-style="normal" font-family='"Liberation Sans", sans-serif' fill="#1a1a1a" textLength="15.30" lengthAdjust="spacingAndGlyphs">100</text>
<text x="325.50" y="370.30" font-size="8.60" text-anchor="middle" font-weight="normal" font-style="normal" font-family='"Liberation Sans", sans-serif' fill="#1a1a1a" textLength="63.50" lengthAdjust="spacingAndGlyphs" stroke="#1a1a1a" stroke-width="0.28">Frequency (THz)</text>
<text transform="translate(208.90 278.93) rotate(-90)" font-size="8.6" text-anchor="middle" font-family='"Liberation Sans", sans-serif' fill="#1a1a1a" stroke="#1a1a1a" stroke-width="0.28" textLength="46.5" lengthAdjust="spacingAndGlyphs">Reflectance</text>
<g clip-path="url(#cpb2)" fill="none" stroke-linejoin="round" stroke-linecap="butt">
<path d="M238.23 445.90L240.41 454.54L244.77 474.15L245.65 477.83L246.52 481.14L247.39 483.92L248.26 486.02L248.70 486.75L249.14 487.24L249.57 487.43L250.01 487.45L250.45 487.17L250.88 486.74L251.75 485.36L252.63 483.40L253.50 480.97L255.25 475.09L260.48 455.27L262.66 447.90L263.97 443.93L265.72 439.18L267.03 436.01L268.77 432.25L270.52 428.98L272.70 425.49L274.45 423.11L276.63 420.55L278.81 418.39L280.12 417.25L281.43 416.22L284.05 414.43L287.10 412.71L290.15 411.31L293.65 410.01L297.57 408.85L301.94 407.84L306.74 406.98L311.97 406.28L317.65 405.70L324.19 405.22L330.30 404.91L337.28 404.66L345.14 404.49L352.99 404.41L358.23 404.45L362.59 404.61L366.08 404.87L373.06 405.54L376.99 405.73L380.48 405.64L388.77 405.00L393.57 404.79L400.12 404.78L412.77 404.99" stroke="#f0843a" stroke-width="1.50"/>
<path d="M238.23 516.88L240.41 515.45L241.72 514.69L243.46 513.82L245.21 513.12L246.95 512.56L249.14 512.04L251.32 511.70L253.50 511.52L255.25 511.49L256.55 511.53L257.86 511.65L259.61 511.90L262.23 512.41L275.75 515.33L278.37 515.79L281.43 516.19L287.10 516.74L291.90 517.04L296.26 517.12L301.94 517.06L312.41 516.82L318.95 516.59L323.75 516.31L328.99 515.83L340.77 514.51L348.63 513.45L352.99 512.69L361.28 510.91L365.21 510.26L371.75 509.52L374.37 509.34L376.55 509.30L378.74 509.39L381.35 509.71L384.41 510.28L388.77 511.24L392.70 512.28L402.74 515.29L412.77 518.03" stroke="#4d7cbf" stroke-width="1.50"/>
<path d="M238.23 404.40L242.59 404.68L249.14 405.46L251.75 405.66L254.37 405.66L260.92 405.22L264.41 405.13L269.65 405.26L278.37 405.69L286.23 406.20L293.65 406.83L300.19 407.52L306.30 408.34L311.97 409.28L316.77 410.25L321.57 411.44L325.94 412.76L329.86 414.19L333.79 415.91L337.28 417.76L340.34 419.68L343.39 421.95L346.01 424.23L348.63 426.89L350.81 429.46L352.99 432.39L355.17 435.75L357.35 439.61L359.10 443.11L360.85 447.01L362.59 451.34L364.34 456.14L365.65 460.04L366.95 464.20L368.70 470.10L373.94 488.74L375.68 494.23L376.55 496.56L377.43 498.53L378.30 500.02L378.74 500.54L379.17 500.94L380.05 500.94L380.48 500.62L380.92 500.10L381.79 498.64L382.23 497.73L383.54 494.39L384.41 491.77L385.72 487.43L390.52 470.21L393.14 461.43L394.88 456.11L396.19 452.43L397.50 449.00L399.25 444.83L400.55 441.97L402.30 438.51L403.61 436.15L405.35 433.29L407.10 430.72L408.85 428.41L410.59 426.33L412.77 424.02" stroke="#4e9e42" stroke-width="1.50"/>
<path d="M238.23 456.48L239.97 463.14L241.72 469.36L244.34 478.06L245.65 481.82L246.52 483.84L247.39 485.41L247.83 486.03L248.26 486.52L248.70 486.85L249.14 486.98L249.57 486.90L250.01 486.61L250.45 486.12L250.88 485.46L251.75 483.69L252.63 481.42L253.50 478.75L254.37 475.78L259.17 457.70L260.48 453.03L261.79 448.67L263.10 444.65L264.85 439.82L266.15 436.59L267.90 432.76L269.65 429.42L271.83 425.86L273.57 423.43L275.75 420.82L277.94 418.62L279.25 417.46L280.55 416.41L283.17 414.58L286.23 412.83L288.85 411.60L291.46 410.55L294.52 409.53L297.57 408.69L300.19 408.07L302.81 407.56L305.43 407.26L309.79 406.88L316.77 406.49L319.83 406.43L321.57 406.50L322.45 406.64L323.32 406.85L327.68 408.37L331.61 409.23L333.79 409.63L335.97 409.94L338.15 410.10L339.90 410.09L341.65 409.99L343.39 409.80L347.75 409.11L349.94 408.55L354.74 406.79L356.05 406.38L357.35 406.05L359.97 405.55L366.08 404.56L371.32 403.52L373.94 403.17L380.48 402.85L387.46 402.72L391.39 402.77L401.43 403.09L412.77 403.10" stroke="#f0843a" stroke-width="1.25" stroke-dasharray="3.7 1.65"/>
<path d="M238.23 520.46L240.85 518.30L242.59 516.99L244.77 515.52L246.95 514.23L248.70 513.39L250.45 512.75L252.19 512.32L253.94 512.03L256.99 511.75L260.05 511.71L262.66 511.82L270.08 512.30L275.32 512.40L286.66 512.19L294.08 511.88L301.94 511.31L308.48 510.68L315.90 509.68L323.32 508.36L326.81 507.84L330.30 507.48L332.92 507.42L335.10 507.61L337.72 508.12L340.77 509.00L343.39 509.94L345.14 510.70L346.88 511.58L356.05 516.82L359.10 518.49L361.28 519.59L363.03 520.36L365.21 521.16L367.83 521.93L370.45 522.57L373.50 523.16L376.12 523.53L379.17 523.81L383.54 524.10L389.65 524.38L397.50 524.63L405.79 524.83L412.77 524.93" stroke="#4d7cbf" stroke-width="1.25" stroke-dasharray="3.7 1.65"/>
<path d="M238.23 403.74L248.26 405.07L256.12 406.04L260.05 406.61L264.41 407.45L266.59 408.04L268.77 408.75L272.26 410.05L282.30 414.07L285.79 415.57L289.28 417.23L293.21 419.33L298.88 422.66L302.37 424.62L304.12 425.81L305.43 427.03L306.30 428.10L307.61 430.06L309.79 433.78L311.54 436.94L312.85 439.49L314.15 442.27L315.46 445.36L316.34 447.68L318.52 453.96L320.26 458.57L321.14 461.32L322.01 465.01L323.32 471.50L324.19 475.25L326.81 484.41L329.43 495.26L330.74 500.02L331.61 502.59L332.48 504.64L332.92 505.45L333.35 506.07L333.79 506.45L334.23 506.54L334.66 506.30L335.10 505.74L335.54 504.92L335.97 503.90L337.72 499.16L339.03 495.33L340.77 489.79L343.83 479.31L346.01 472.40L346.88 469.05L348.19 463.31L349.06 459.91L349.94 457.27L351.25 453.98L352.12 451.57L354.74 443.70L355.61 441.50L356.48 439.54L357.79 436.88L359.10 434.45L360.41 432.24L361.72 430.23L364.34 426.66L366.52 424.03L368.26 422.14L370.01 420.47L371.75 419.02L373.94 417.46L376.12 416.09L378.30 414.90L380.92 413.72L383.97 412.57L387.46 411.48L391.83 410.30L396.63 409.17L400.55 408.37L404.05 407.79L408.41 407.17L412.77 406.68" stroke="#4e9e42" stroke-width="1.25" stroke-dasharray="3.7 1.65"/>
</g>
<rect x="229.50" y="393.35" width="192.00" height="142.75" fill="none" stroke="#333333" stroke-width="1.3"/>
<path d="M238.23 536.10V533.10M281.86 536.10V533.10M325.50 536.10V533.10M369.14 536.10V533.10M412.77 536.10V533.10M260.05 536.10V534.20M303.68 536.10V534.20M347.32 536.10V534.20M390.95 536.10V534.20M229.50 527.10H232.50M229.50 501.56H232.50M229.50 476.02H232.50M229.50 450.48H232.50M229.50 424.94H232.50M229.50 399.40H232.50" stroke="#333333" stroke-width="0.95" fill="none"/>
<text x="226.70" y="530.50" font-size="9.80" text-anchor="end" font-weight="normal" font-style="normal" font-family='"Liberation Sans", sans-serif' fill="#1a1a1a" textLength="12.70" lengthAdjust="spacingAndGlyphs">0.0</text>
<text x="226.70" y="504.96" font-size="9.80" text-anchor="end" font-weight="normal" font-style="normal" font-family='"Liberation Sans", sans-serif' fill="#1a1a1a" textLength="12.70" lengthAdjust="spacingAndGlyphs">0.2</text>
<text x="226.70" y="479.42" font-size="9.80" text-anchor="end" font-weight="normal" font-style="normal" font-family='"Liberation Sans", sans-serif' fill="#1a1a1a" textLength="12.70" lengthAdjust="spacingAndGlyphs">0.4</text>
<text x="226.70" y="453.88" font-size="9.80" text-anchor="end" font-weight="normal" font-style="normal" font-family='"Liberation Sans", sans-serif' fill="#1a1a1a" textLength="12.70" lengthAdjust="spacingAndGlyphs">0.6</text>
<text x="226.70" y="428.34" font-size="9.80" text-anchor="end" font-weight="normal" font-style="normal" font-family='"Liberation Sans", sans-serif' fill="#1a1a1a" textLength="12.70" lengthAdjust="spacingAndGlyphs">0.8</text>
<text x="226.70" y="402.80" font-size="9.80" text-anchor="end" font-weight="normal" font-style="normal" font-family='"Liberation Sans", sans-serif' fill="#1a1a1a" textLength="12.70" lengthAdjust="spacingAndGlyphs">1.0</text>
<text x="238.23" y="545.10" font-size="9.80" text-anchor="middle" font-weight="normal" font-style="normal" font-family='"Liberation Sans", sans-serif' fill="#1a1a1a" textLength="10.00" lengthAdjust="spacingAndGlyphs">60</text>
<text x="281.86" y="545.10" font-size="9.80" text-anchor="middle" font-weight="normal" font-style="normal" font-family='"Liberation Sans", sans-serif' fill="#1a1a1a" textLength="10.00" lengthAdjust="spacingAndGlyphs">70</text>
<text x="325.50" y="545.10" font-size="9.80" text-anchor="middle" font-weight="normal" font-style="normal" font-family='"Liberation Sans", sans-serif' fill="#1a1a1a" textLength="10.00" lengthAdjust="spacingAndGlyphs">80</text>
<text x="369.14" y="545.10" font-size="9.80" text-anchor="middle" font-weight="normal" font-style="normal" font-family='"Liberation Sans", sans-serif' fill="#1a1a1a" textLength="10.00" lengthAdjust="spacingAndGlyphs">90</text>
<text x="412.77" y="545.10" font-size="9.80" text-anchor="middle" font-weight="normal" font-style="normal" font-family='"Liberation Sans", sans-serif' fill="#1a1a1a" textLength="15.30" lengthAdjust="spacingAndGlyphs">100</text>
<text x="325.50" y="555.00" font-size="8.60" text-anchor="middle" font-weight="normal" font-style="normal" font-family='"Liberation Sans", sans-serif' fill="#1a1a1a" textLength="63.50" lengthAdjust="spacingAndGlyphs" stroke="#1a1a1a" stroke-width="0.28">Frequency (THz)</text>
<text transform="translate(208.90 464.73) rotate(-90)" font-size="8.6" text-anchor="middle" font-family='"Liberation Sans", sans-serif' fill="#1a1a1a" stroke="#1a1a1a" stroke-width="0.28" textLength="46.5" lengthAdjust="spacingAndGlyphs">Reflectance</text>
<rect x="581.90" y="93.90" width="94.00" height="59.00" rx="5" fill="#000" fill-opacity="0.07" filter="url(#sh2)"/>
<rect x="581.40" y="90.40" width="94.00" height="59.00" rx="5" fill="#ffffff" fill-opacity="0.85" stroke="#d0d0d0" stroke-width="0.8"/>
<rect x="589.90" y="104.70" width="10.80" height="1.8" fill="#000" fill-opacity="0.16" filter="url(#sh)"/>
<path d="M589.90 101.20H600.70" stroke="#f0843a" stroke-width="1.6" stroke-opacity="1.00"/>
<rect x="604.70" y="104.70" width="10.80" height="1.8" fill="#000" fill-opacity="0.16" filter="url(#sh)"/>
<path d="M604.70 101.20H615.50" stroke="#4d7cbf" stroke-width="1.6" stroke-opacity="1.00"/>
<rect x="619.60" y="104.70" width="10.80" height="1.8" fill="#000" fill-opacity="0.16" filter="url(#sh)"/>
<path d="M619.60 101.20H630.40" stroke="#4e9e42" stroke-width="1.6" stroke-opacity="1.00"/>
<rect x="589.90" y="117.20" width="10.80" height="1.8" fill="#000" fill-opacity="0.16" filter="url(#sh)"/>
<path d="M589.90 113.70H594.60M596.00 113.70H600.70" stroke="#f0843a" stroke-width="1.55" stroke-opacity="0.80"/>
<rect x="604.70" y="117.20" width="10.80" height="1.8" fill="#000" fill-opacity="0.16" filter="url(#sh)"/>
<path d="M604.70 113.70H609.40M610.80 113.70H615.50" stroke="#4d7cbf" stroke-width="1.55" stroke-opacity="0.80"/>
<rect x="619.60" y="117.20" width="10.80" height="1.8" fill="#000" fill-opacity="0.16" filter="url(#sh)"/>
<path d="M619.60 113.70H624.30M625.70 113.70H630.40" stroke="#4e9e42" stroke-width="1.55" stroke-opacity="0.80"/>
<rect x="589.90" y="129.70" width="10.80" height="1.8" fill="#000" fill-opacity="0.16" filter="url(#sh)"/>
<path d="M589.90 126.20H594.60M596.00 126.20H600.70" stroke="#f0843a" stroke-width="1.55" stroke-opacity="0.62"/>
<rect x="604.70" y="129.70" width="10.80" height="1.8" fill="#000" fill-opacity="0.16" filter="url(#sh)"/>
<path d="M604.70 126.20H609.40M610.80 126.20H615.50" stroke="#4d7cbf" stroke-width="1.55" stroke-opacity="0.62"/>
<rect x="619.60" y="129.70" width="10.80" height="1.8" fill="#000" fill-opacity="0.16" filter="url(#sh)"/>
<path d="M619.60 126.20H624.30M625.70 126.20H630.40" stroke="#4e9e42" stroke-width="1.55" stroke-opacity="0.62"/>
<rect x="589.90" y="142.10" width="10.80" height="1.8" fill="#000" fill-opacity="0.16" filter="url(#sh)"/>
<path d="M589.90 138.60H594.60M596.00 138.60H600.70" stroke="#f0843a" stroke-width="1.55" stroke-opacity="0.45"/>
<rect x="604.70" y="142.10" width="10.80" height="1.8" fill="#000" fill-opacity="0.16" filter="url(#sh)"/>
<path d="M604.70 138.60H609.40M610.80 138.60H615.50" stroke="#4d7cbf" stroke-width="1.55" stroke-opacity="0.45"/>
<rect x="619.60" y="142.10" width="10.80" height="1.8" fill="#000" fill-opacity="0.16" filter="url(#sh)"/>
<path d="M619.60 138.60H624.30M625.70 138.60H630.40" stroke="#4e9e42" stroke-width="1.55" stroke-opacity="0.45"/>
<text x="638.00" y="108.40" font-size="9.00" text-anchor="start" font-weight="normal" font-style="normal" font-family='"Liberation Sans", sans-serif' fill="#000" textLength="18.70" lengthAdjust="spacingAndGlyphs" opacity="0.13" stroke="#000" stroke-width="0.5" filter="url(#sh2)">Truth</text>
<text x="638.00" y="104.00" font-size="9.00" text-anchor="start" font-weight="normal" font-style="normal" font-family='"Liberation Sans", sans-serif' fill="#1a1a1a" textLength="18.70" lengthAdjust="spacingAndGlyphs" stroke="#1a1a1a" stroke-width="0.25">Truth</text>
<text x="638.00" y="120.70" font-size="9.00" text-anchor="start" font-weight="normal" font-style="normal" font-family='"Liberation Sans", sans-serif' fill="#000" textLength="26.30" lengthAdjust="spacingAndGlyphs" opacity="0.13" stroke="#000" stroke-width="0.5" filter="url(#sh2)">Cand. 1</text>
<text x="638.00" y="116.30" font-size="9.00" text-anchor="start" font-weight="normal" font-style="normal" font-family='"Liberation Sans", sans-serif' fill="#1a1a1a" textLength="26.30" lengthAdjust="spacingAndGlyphs" stroke="#1a1a1a" stroke-width="0.25">Cand. 1</text>
<text x="638.00" y="133.00" font-size="9.00" text-anchor="start" font-weight="normal" font-style="normal" font-family='"Liberation Sans", sans-serif' fill="#000" textLength="26.30" lengthAdjust="spacingAndGlyphs" opacity="0.13" stroke="#000" stroke-width="0.5" filter="url(#sh2)">Cand. 2</text>
<text x="638.00" y="128.60" font-size="9.00" text-anchor="start" font-weight="normal" font-style="normal" font-family='"Liberation Sans", sans-serif' fill="#1a1a1a" textLength="26.30" lengthAdjust="spacingAndGlyphs" stroke="#1a1a1a" stroke-width="0.25">Cand. 2</text>
<text x="638.00" y="145.20" font-size="9.00" text-anchor="start" font-weight="normal" font-style="normal" font-family='"Liberation Sans", sans-serif' fill="#000" textLength="26.30" lengthAdjust="spacingAndGlyphs" opacity="0.13" stroke="#000" stroke-width="0.5" filter="url(#sh2)">Cand. 3</text>
<text x="638.00" y="140.80" font-size="9.00" text-anchor="start" font-weight="normal" font-style="normal" font-family='"Liberation Sans", sans-serif' fill="#1a1a1a" textLength="26.30" lengthAdjust="spacingAndGlyphs" stroke="#1a1a1a" stroke-width="0.25">Cand. 3</text>
<g clip-path="url(#cpc0)" fill="none" stroke-linejoin="round" stroke-linecap="butt">
<path d="M499.86 38.57L503.78 43.68L507.71 48.49L509.88 50.96L513.81 55.07L515.55 57.17L516.42 58.41L517.29 59.81L519.91 64.50L521.65 67.47L522.52 68.80L522.95 69.32L523.39 69.71L523.83 69.93L524.26 70.00L524.70 69.93L525.13 69.77L527.31 68.53L528.18 68.21L529.05 68.11L530.36 68.30L531.23 68.57L532.10 68.92L532.98 69.39L533.41 69.70L534.28 70.51L534.72 71.03L535.59 72.26L536.90 74.62L537.77 76.64L542.56 89.71L543.87 93.80L545.17 98.48L550.84 120.40L551.27 121.71L551.71 122.73L552.15 123.42L552.58 123.77L553.02 123.80L553.45 123.56L553.89 123.08L554.76 121.63L556.07 118.63L556.94 116.10L557.37 114.60L558.25 111.14L561.29 97.46L563.91 86.42L565.22 81.18L566.52 76.47L567.39 73.73L568.27 71.30L569.57 68.03L570.88 65.06L572.62 61.48L574.37 58.34L576.11 55.62L578.72 52.15L581.34 49.10L583.51 46.91L585.69 45.09L587.44 43.94L590.05 42.62L593.10 41.40L596.15 40.40L600.51 39.23L604.86 38.23L609.22 37.40L614.01 36.66L619.68 35.94L625.34 35.33L630.57 34.87L637.54 34.38L645.82 33.91L654.97 33.49L664.99 33.10L674.14 32.83" stroke="#f0843a" stroke-width="1.20" stroke-dasharray="3.7 1.65" stroke-opacity="0.75"/>
<path d="M499.86 155.95L674.14 155.95" stroke="#4d7cbf" stroke-width="1.20" stroke-dasharray="3.7 1.65" stroke-opacity="0.75"/>
<path d="M499.86 58.58L501.61 61.63L502.91 63.75L506.40 69.03L507.27 70.21L508.14 71.12L508.58 71.43L509.01 71.62L509.45 71.69L509.88 71.64L510.32 71.47L511.19 70.83L512.50 69.31L513.81 67.37L514.68 65.80L515.55 63.92L516.42 61.83L521.65 48.78L523.83 44.03L524.70 42.35L525.57 40.94L526.44 39.86L527.31 39.05L528.62 38.10L530.36 37.12L531.67 36.57L532.98 36.17L534.72 35.77L536.90 35.39L539.95 34.98L544.74 34.49L555.63 33.62L568.27 32.95L581.77 32.44L590.92 32.27L606.61 32.11L674.14 31.69" stroke="#4e9e42" stroke-width="1.20" stroke-dasharray="3.7 1.65" stroke-opacity="0.75"/>
<path d="M499.86 35.04L506.83 35.49L512.93 35.99L518.60 36.56L523.39 37.15L528.18 37.86L532.54 38.66L536.46 39.54L539.95 40.47L543.43 41.58L546.48 42.75L549.53 44.15L552.15 45.57L554.76 47.24L556.94 48.88L559.12 50.78L561.29 52.99L563.04 55.03L564.78 57.36L566.52 60.02L567.83 62.26L569.14 64.74L570.44 67.49L571.75 70.54L573.06 73.91L574.37 77.62L575.67 81.71L576.98 86.18L578.29 91.04L580.46 99.90L584.82 118.90L586.13 124.13L587.00 127.25L587.87 129.96L588.74 132.18L589.18 133.07L590.05 134.44L590.92 135.06L591.36 135.18L591.79 135.06L592.66 134.44L593.54 133.07L593.97 132.18L594.84 129.96L595.71 127.25L596.59 124.13L597.89 118.90L602.25 99.90L604.43 91.04L606.61 83.16L607.91 78.94L609.22 75.10L610.53 71.62L611.83 68.47L613.14 65.63L614.45 63.06L615.76 60.74L617.06 58.64L618.37 56.75L620.11 54.50L621.85 52.52L624.03 50.37L626.21 48.53L628.39 46.94L631.00 45.31L633.62 43.93L636.23 42.75L639.28 41.58L642.33 40.59L645.82 39.64L649.74 38.75L653.66 38.01L658.02 37.33L662.81 36.71L668.04 36.15L674.14 35.62" stroke="#f0843a" stroke-width="1.20" stroke-dasharray="3.7 1.65" stroke-opacity="0.62"/>
<path d="M499.86 155.95L674.14 155.95" stroke="#4d7cbf" stroke-width="1.20" stroke-dasharray="3.7 1.65" stroke-opacity="0.62"/>
<path d="M500.52 69.75L502.70 64.84L504.44 61.11L506.18 57.74L507.49 55.47L508.80 53.42L510.54 51.01L512.28 48.92L514.02 47.12L515.77 45.56L517.94 43.90L520.12 42.50L522.74 41.10L525.35 39.94L528.40 38.82L531.45 37.91L534.94 37.05L538.42 36.34L542.34 35.69L546.70 35.11L551.49 34.58L556.72 34.13L562.82 33.70L576.33 33.03L592.88 32.51L613.36 32.11L639.50 31.81L672.61 31.58" stroke="#4e9e42" stroke-width="1.20" stroke-dasharray="3.7 1.65" stroke-opacity="0.62"/>
<path d="M499.86 33.32L511.63 33.64L522.08 34.02L531.23 34.43L539.51 34.91L546.92 35.46L553.89 36.11L559.99 36.82L565.65 37.64L570.44 38.50L575.24 39.55L579.59 40.73L583.51 42.02L587.00 43.40L590.49 45.06L593.54 46.81L596.59 48.89L599.20 51.02L601.38 53.07L603.56 55.44L605.73 58.18L607.91 61.35L609.66 64.25L611.40 67.52L613.14 71.21L614.88 75.35L616.63 80.00L617.93 83.83L619.68 89.40L622.29 98.69L627.95 120.46L629.26 124.97L630.13 127.66L631.44 131.06L632.31 132.83L632.75 133.53L633.62 134.60L634.49 135.09L634.93 135.18L635.36 135.09L636.23 134.60L637.10 133.53L637.54 132.83L638.41 131.06L639.72 127.66L640.59 124.97L641.90 120.46L647.56 98.69L650.17 89.40L651.92 83.83L653.22 80.00L654.97 75.35L656.71 71.21L658.45 67.52L660.63 63.49L662.37 60.68L664.55 57.60L666.73 54.94L668.91 52.64L671.52 50.27L674.14 48.26" stroke="#f0843a" stroke-width="1.20" stroke-dasharray="3.7 1.65" stroke-opacity="0.50"/>
<path d="M499.86 155.95L674.14 155.95" stroke="#4d7cbf" stroke-width="1.20" stroke-dasharray="3.7 1.65" stroke-opacity="0.50"/>
<path d="M499.94 72.36L504.73 61.81L506.47 58.31L507.78 55.94L509.09 53.80L510.83 51.26L512.57 49.07L514.31 47.18L516.06 45.55L518.23 43.80L520.41 42.34L523.03 40.88L525.64 39.67L528.26 38.66L531.31 37.68L534.79 36.77L538.28 36.03L542.20 35.34L546.55 34.72L551.35 34.18L556.57 33.70L562.24 33.28L568.77 32.90L575.74 32.57L592.30 32.03L613.21 31.62L639.79 31.30L673.48 31.07" stroke="#4e9e42" stroke-width="1.20" stroke-dasharray="3.7 1.65" stroke-opacity="0.50"/>
<path d="M499.86 38.22L502.91 39.22L505.53 40.20L508.14 41.31L510.32 42.35L512.50 43.51L514.68 44.82L516.86 46.30L518.60 47.62L520.34 49.08L522.08 50.70L523.83 52.51L525.57 54.54L527.31 56.81L528.62 58.69L529.93 60.75L531.23 63.01L533.41 67.25L535.15 71.15L537.33 76.73L539.08 81.84L541.25 89.08L543.43 97.28L545.17 104.45L549.10 121.35L550.84 128.16L552.15 132.39L553.02 134.56L553.45 135.42L553.89 136.09L554.32 136.52L554.76 136.62L555.20 136.60L555.63 136.12L556.07 135.48L556.50 134.63L557.37 132.44L558.25 129.69L559.99 123.04L564.78 102.22L567.39 91.78L568.70 87.08L570.01 82.74L571.32 78.76L573.06 73.97L574.80 69.75L576.54 66.02L578.29 62.74L580.03 59.83L581.77 57.27L583.95 54.46L586.13 52.04L588.74 49.55L591.36 47.44L594.41 45.37L597.46 43.63L600.94 41.96L604.43 40.58L608.35 39.28L612.71 38.10L617.06 37.12L621.85 36.24L627.52 35.39L633.62 34.66L640.15 34.04L647.56 33.49L655.40 33.03L664.12 32.63L674.14 32.29" stroke="#f0843a" stroke-width="1.50"/>
<path d="M499.86 155.95L674.14 155.95" stroke="#4d7cbf" stroke-width="1.50"/>
<path d="M499.86 74.25L501.17 71.66L505.53 62.01L507.71 57.74L509.01 55.47L510.76 52.78L512.50 50.46L514.24 48.45L515.98 46.71L518.16 44.86L520.34 43.31L522.95 41.77L525.57 40.49L528.18 39.43L531.23 38.41L534.72 37.46L538.20 36.68L542.12 35.97L546.48 35.33L551.27 34.76L556.50 34.27L562.17 33.84L568.70 33.45L575.67 33.11L592.66 32.55L613.58 32.13L640.15 31.82L674.14 31.58" stroke="#4e9e42" stroke-width="1.50"/>
</g>
<rect x="491.15" y="22.50" width="191.70" height="142.30" fill="none" stroke="#333333" stroke-width="1.3"/>
<path d="M499.86 164.80V161.80M543.43 164.80V161.80M587.00 164.80V161.80M630.57 164.80V161.80M674.14 164.80V161.80M521.65 164.80V162.90M565.22 164.80V162.90M608.78 164.80V162.90M652.35 164.80V162.90M491.15 155.95H494.15M491.15 130.46H494.15M491.15 104.97H494.15M491.15 79.48H494.15M491.15 53.99H494.15M491.15 28.50H494.15" stroke="#333333" stroke-width="0.95" fill="none"/>
<text x="488.35" y="159.35" font-size="9.80" text-anchor="end" font-weight="normal" font-style="normal" font-family='"Liberation Sans", sans-serif' fill="#1a1a1a" textLength="12.70" lengthAdjust="spacingAndGlyphs">0.0</text>
<text x="488.35" y="133.86" font-size="9.80" text-anchor="end" font-weight="normal" font-style="normal" font-family='"Liberation Sans", sans-serif' fill="#1a1a1a" textLength="12.70" lengthAdjust="spacingAndGlyphs">0.2</text>
<text x="488.35" y="108.37" font-size="9.80" text-anchor="end" font-weight="normal" font-style="normal" font-family='"Liberation Sans", sans-serif' fill="#1a1a1a" textLength="12.70" lengthAdjust="spacingAndGlyphs">0.4</text>
<text x="488.35" y="82.88" font-size="9.80" text-anchor="end" font-weight="normal" font-style="normal" font-family='"Liberation Sans", sans-serif' fill="#1a1a1a" textLength="12.70" lengthAdjust="spacingAndGlyphs">0.6</text>
<text x="488.35" y="57.39" font-size="9.80" text-anchor="end" font-weight="normal" font-style="normal" font-family='"Liberation Sans", sans-serif' fill="#1a1a1a" textLength="12.70" lengthAdjust="spacingAndGlyphs">0.8</text>
<text x="488.35" y="31.90" font-size="9.80" text-anchor="end" font-weight="normal" font-style="normal" font-family='"Liberation Sans", sans-serif' fill="#1a1a1a" textLength="12.70" lengthAdjust="spacingAndGlyphs">1.0</text>
<text x="499.86" y="173.80" font-size="9.80" text-anchor="middle" font-weight="normal" font-style="normal" font-family='"Liberation Sans", sans-serif' fill="#1a1a1a" textLength="10.00" lengthAdjust="spacingAndGlyphs">60</text>
<text x="543.43" y="173.80" font-size="9.80" text-anchor="middle" font-weight="normal" font-style="normal" font-family='"Liberation Sans", sans-serif' fill="#1a1a1a" textLength="10.00" lengthAdjust="spacingAndGlyphs">70</text>
<text x="587.00" y="173.80" font-size="9.80" text-anchor="middle" font-weight="normal" font-style="normal" font-family='"Liberation Sans", sans-serif' fill="#1a1a1a" textLength="10.00" lengthAdjust="spacingAndGlyphs">80</text>
<text x="630.57" y="173.80" font-size="9.80" text-anchor="middle" font-weight="normal" font-style="normal" font-family='"Liberation Sans", sans-serif' fill="#1a1a1a" textLength="10.00" lengthAdjust="spacingAndGlyphs">90</text>
<text x="674.14" y="173.80" font-size="9.80" text-anchor="middle" font-weight="normal" font-style="normal" font-family='"Liberation Sans", sans-serif' fill="#1a1a1a" textLength="15.30" lengthAdjust="spacingAndGlyphs">100</text>
<text x="587.00" y="184.90" font-size="8.60" text-anchor="middle" font-weight="normal" font-style="normal" font-family='"Liberation Sans", sans-serif' fill="#1a1a1a" textLength="63.50" lengthAdjust="spacingAndGlyphs" stroke="#1a1a1a" stroke-width="0.28">Frequency (THz)</text>
<text transform="translate(470.55 93.65) rotate(-90)" font-size="8.6" text-anchor="middle" font-family='"Liberation Sans", sans-serif' fill="#1a1a1a" stroke="#1a1a1a" stroke-width="0.28" textLength="46.5" lengthAdjust="spacingAndGlyphs">Reflectance</text>
<g clip-path="url(#cpc1)" fill="none" stroke-linejoin="round" stroke-linecap="butt">
<path d="M499.86 220.27L507.71 220.63L515.11 221.06L521.65 221.54L527.31 222.05L532.98 222.69L537.77 223.35L542.12 224.08L546.48 224.97L550.40 225.95L553.89 227.00L556.94 228.10L559.99 229.40L563.04 230.96L565.65 232.55L568.27 234.44L570.44 236.28L572.19 237.97L573.93 239.88L575.67 242.05L577.42 244.52L579.16 247.33L580.46 249.69L582.21 253.22L583.51 256.18L584.82 259.45L586.13 263.02L587.44 266.92L588.74 271.15L591.36 280.51L596.15 299.01L597.89 304.95L598.76 307.48L599.63 309.60L600.07 310.49L600.94 311.92L601.81 312.80L602.25 312.98L603.12 312.92L603.56 312.81L603.99 312.42L604.43 311.90L604.86 311.27L605.73 309.61L607.04 306.26L607.91 303.57L609.22 299.01L614.01 280.51L616.19 272.63L618.37 265.58L619.68 261.79L620.98 258.32L623.16 253.22L625.34 248.87L626.65 246.59L627.95 244.52L629.26 242.64L630.57 240.93L632.31 238.90L634.05 237.10L635.80 235.51L637.97 233.77L640.15 232.27L642.33 230.96L644.51 229.82L647.12 228.63L649.74 227.61L652.79 226.59L655.84 225.72L658.89 224.97L662.37 224.25L665.86 223.63L669.78 223.03L674.14 222.48" stroke="#f0843a" stroke-width="1.20" stroke-dasharray="3.7 1.65" stroke-opacity="0.75"/>
<path d="M499.86 340.13L504.22 340.01L508.14 339.82L518.16 339.05L525.13 338.30L531.67 337.28L535.59 336.53L539.95 335.62L543.43 334.80L546.05 334.09L549.53 333.00L553.02 331.82L562.17 328.40L565.22 327.46L568.27 326.67L571.32 326.06L574.37 325.68L578.72 325.37L582.64 325.28L586.56 325.34L590.05 325.49L592.23 325.71L594.41 326.09L599.20 327.16L607.91 328.91L611.83 329.78L615.76 330.81L623.60 333.18L627.52 334.24L634.49 335.87L637.54 336.48L640.15 336.93L645.38 337.60L652.35 338.24L664.12 339.14L674.14 339.75" stroke="#4d7cbf" stroke-width="1.20" stroke-dasharray="3.7 1.65" stroke-opacity="0.75"/>
<path d="M499.86 220.02L503.35 220.21L506.83 220.53L511.63 221.12L515.11 221.67L518.16 222.31L521.21 223.09L524.26 224.00L526.88 224.92L529.49 226.01L531.67 227.07L533.85 228.31L536.03 229.76L538.20 231.43L539.95 232.97L541.69 234.76L543.43 236.84L545.61 239.87L547.35 242.77L548.22 244.45L549.10 246.34L550.40 249.68L551.27 252.32L552.15 255.28L556.94 273.49L563.47 296.61L564.34 299.51L565.22 302.05L566.09 304.07L566.52 304.84L566.96 305.41L567.39 305.78L567.83 305.93L568.27 305.86L568.70 305.56L569.14 305.04L569.57 304.32L570.44 302.37L571.32 299.91L574.80 289.28L581.34 270.98L584.82 261.71L586.13 258.49L587.87 254.45L589.61 250.67L591.36 247.13L592.66 244.66L593.97 242.40L595.28 240.40L596.59 238.64L597.89 237.14L599.20 235.91L600.07 235.23L601.38 234.38L605.73 232.04L610.53 229.08L611.83 228.35L613.14 227.71L615.76 226.64L618.80 225.59L622.29 224.57L625.78 223.69L630.57 222.67L635.36 221.81L640.15 221.09L644.95 220.52L651.05 219.95L658.02 219.44L666.73 218.94L674.14 218.62" stroke="#4e9e42" stroke-width="1.20" stroke-dasharray="3.7 1.65" stroke-opacity="0.62"/>
<path d="M499.86 219.24L525.57 219.75L536.46 220.07L546.05 220.45L554.76 220.89L562.17 221.37L569.14 221.94L575.24 222.57L580.90 223.30L586.13 224.15L590.92 225.12L595.28 226.20L599.20 227.41L602.68 228.71L606.17 230.28L609.22 231.95L611.83 233.64L614.45 235.64L617.06 238.02L619.24 240.34L621.42 243.05L623.16 245.53L625.34 249.10L627.08 252.37L628.83 256.07L630.57 260.22L631.88 263.66L633.62 268.68L636.23 277.06L641.46 295.21L642.77 299.33L643.64 301.80L644.51 303.97L645.38 305.80L645.82 306.55L646.69 307.77L647.56 308.52L648.00 308.67L648.87 308.62L649.30 308.53L649.74 308.19L650.17 307.75L650.61 307.22L651.48 305.80L652.79 302.93L654.10 299.33L655.40 295.21L660.19 278.55L661.94 272.75L663.68 267.38L664.99 263.66L667.17 258.09L669.34 253.25L671.52 249.10L672.83 246.89L674.14 244.88" stroke="#f0843a" stroke-width="1.20" stroke-dasharray="3.7 1.65" stroke-opacity="0.62"/>
<path d="M499.86 340.38L504.66 340.24L509.01 340.02L514.24 339.64L519.91 339.14L523.39 338.77L526.44 338.37L533.41 337.19L542.12 335.38L545.17 334.65L548.22 333.81L551.27 332.89L553.89 332.02L562.17 328.91L564.34 328.21L566.96 327.46L568.70 327.02L570.44 326.67L572.19 326.43L573.93 326.30L580.03 326.17L585.26 326.22L588.74 326.43L601.38 327.48L603.99 327.60L606.61 327.59L608.78 327.48L610.96 327.27L626.21 325.36L635.36 324.40L639.72 324.09L641.90 324.05L643.64 324.10L646.69 324.38L649.74 324.85L655.40 325.97L659.76 326.99L662.81 327.84L666.29 328.97L669.78 330.25L674.14 331.99" stroke="#4d7cbf" stroke-width="1.20" stroke-dasharray="3.7 1.65" stroke-opacity="0.62"/>
<path d="M499.86 221.29L503.35 221.48L507.27 221.84L512.50 222.51L515.98 223.11L519.47 223.90L523.39 224.99L526.44 226.03L529.49 227.28L531.67 228.36L533.85 229.64L536.46 231.41L539.08 233.41L540.82 234.89L543.00 236.92L545.17 239.14L549.10 243.30L550.40 244.83L551.71 246.68L552.58 248.23L553.02 249.14L553.89 251.31L554.76 253.95L555.63 257.02L558.68 269.09L560.42 275.58L562.60 283.11L564.34 288.74L565.65 292.50L566.52 294.54L566.96 295.33L567.39 295.95L567.83 296.38L568.27 296.60L568.70 296.63L569.14 296.47L569.57 296.16L570.01 295.73L570.88 294.58L573.93 289.77L574.80 288.22L575.67 286.47L576.54 284.47L577.42 282.22L581.77 269.81L584.82 261.71L586.13 258.49L587.87 254.45L589.61 250.67L591.36 247.12L593.54 243.11L595.28 240.43L596.59 238.74L597.46 237.76L598.33 236.90L599.63 235.83L600.94 234.99L602.68 234.08L609.66 230.95L612.71 229.73L615.76 228.74L619.68 227.64L623.60 226.68L627.52 225.83L632.75 224.85L638.41 223.93L644.07 223.14L651.05 222.30L656.27 221.77L661.94 221.32L668.47 220.91L674.14 220.65" stroke="#4e9e42" stroke-width="1.20" stroke-dasharray="3.7 1.65" stroke-opacity="0.62"/>
<path d="M519.56 217.73L533.06 217.88L540.90 218.09L544.39 218.26L549.18 218.72L565.74 220.66L570.97 221.33L575.76 222.06L580.12 222.83L584.91 223.81L588.39 224.67L590.57 225.34L592.75 226.18L594.93 227.21L597.54 228.66L599.72 230.03L601.90 231.63L609.74 238.30L613.23 241.12L615.84 243.06L617.15 243.91L618.89 244.90L624.12 247.37L625.86 248.26L628.04 249.55L630.22 251.01L631.96 252.34L633.71 253.84L635.45 255.56L636.75 257.02L638.50 259.32L639.80 261.39L641.55 264.62L643.29 268.26L644.60 271.23L645.90 274.45L651.57 289.63L652.44 291.77L653.31 293.71L654.18 295.37L655.05 296.71L655.92 297.68L656.36 298.02L656.80 298.25L657.23 298.36L657.67 298.36L658.10 298.25L658.54 298.02L658.97 297.69L659.41 297.24L660.28 296.05L661.59 293.60L663.33 289.43L668.12 276.42L672.05 266.27L673.79 261.36L674.14 260.06" stroke="#f0843a" stroke-width="1.20" stroke-dasharray="3.7 1.65" stroke-opacity="0.50"/>
<path d="M499.86 338.86L502.48 338.92L504.66 338.88L513.81 338.47L526.88 338.01L534.28 337.63L542.56 337.07L548.66 336.53L563.04 335.07L568.27 334.27L570.88 333.75L573.49 333.15L579.16 331.64L583.95 330.16L588.31 328.55L591.79 326.97L593.54 326.03L595.28 325.00L599.63 322.17L604.43 318.84L612.27 313.11L615.32 311.09L617.06 310.14L618.80 309.42L620.55 308.88L622.73 308.44L624.47 308.23L627.08 308.05L631.00 307.91L634.93 307.86L640.59 307.89L646.25 308.00L649.30 308.11L651.92 308.32L653.66 308.56L655.40 308.88L657.14 309.30L658.89 309.85L660.63 310.54L661.94 311.16L664.99 312.93" stroke="#4d7cbf" stroke-width="1.20" stroke-dasharray="3.7 1.65" stroke-opacity="0.50"/>
<path d="M501.17 217.37L509.45 217.59L516.86 217.86L523.83 218.21L529.93 218.61L536.03 219.12L541.25 219.67L546.05 220.29L550.84 221.04L555.20 221.87L559.12 222.76L563.04 223.82L566.52 224.94L570.01 226.27L573.06 227.63L576.11 229.23L578.72 230.82L580.90 232.33L583.08 234.04L585.26 235.98L587.44 238.18L589.18 240.16L590.92 242.36L592.66 244.80L594.41 247.53L596.15 250.56L597.46 253.05L599.20 256.68L600.51 259.65L603.12 266.18L608.35 280.40L609.66 283.59L610.53 285.51L611.83 287.99L613.14 289.91L614.01 290.80L614.45 291.08L614.88 291.26L615.32 291.31L615.76 291.24L616.19 291.06L616.63 290.77L617.50 289.94L618.80 288.22L620.55 285.65L621.85 283.87L622.73 282.52L623.16 281.70L624.03 279.78L626.21 274.29L627.95 270.34L630.13 266.05L631.88 263.13L633.62 260.58L635.80 257.74L638.41 254.67L641.02 251.82L642.33 250.65L643.20 250.02L644.07 249.52L645.38 248.92L647.56 248.14L649.74 247.50L652.35 246.85L655.84 246.11L657.14 245.75L658.89 245.07L661.07 243.88L662.81 242.72L664.12 241.75L665.42 240.68L666.73 239.50L670.22 235.94L674.14 231.59" stroke="#4e9e42" stroke-width="1.20" stroke-dasharray="3.7 1.65" stroke-opacity="0.50"/>
<path d="M499.86 217.10L519.03 217.70L541.69 218.09L545.61 218.28L549.53 218.66L570.88 221.20L576.54 222.04L582.21 223.06L587.44 224.17L591.36 225.23L594.41 226.36L596.15 227.14L598.33 228.22L600.51 229.40L602.25 230.45L608.78 234.91L613.14 237.59L618.37 240.53L624.90 243.78L627.08 245.09L628.83 246.37L631.00 248.25L633.18 250.40L635.36 252.79L637.54 255.54L639.28 258.13L641.02 261.18L643.20 265.64L644.95 269.60L646.25 272.82L648.00 277.41L652.35 289.33L653.66 292.52L654.53 294.36L655.40 295.91L656.27 297.12L657.14 297.94L657.58 298.19L658.02 298.33L658.45 298.36L658.89 298.27L659.32 298.07L659.76 297.75L660.19 297.33L661.07 296.18L662.37 293.78L663.24 291.82L664.12 289.65L669.78 274.34L674.14 263.23" stroke="#f0843a" stroke-width="1.50"/>
<path d="M499.86 340.51L527.75 339.46L535.15 339.05L542.56 338.53L559.55 336.90L562.60 336.55L567.83 335.72L572.62 334.68L578.72 333.04L583.08 331.70L587.00 330.27L590.49 328.74L592.23 327.83L593.97 326.81L598.76 323.71L603.56 320.37L611.83 314.32L614.88 312.30L616.63 311.41L618.37 310.74L620.55 310.16L622.73 309.82L625.78 309.59L631.00 309.41L635.80 309.38L641.90 309.44L647.12 309.57L649.74 309.71L652.35 309.99L654.53 310.37L656.27 310.79L658.02 311.33L659.76 312.02L661.07 312.64L662.81 313.62L668.91 317.43L674.14 320.56" stroke="#4d7cbf" stroke-width="1.50"/>
<path d="M499.86 217.37L508.14 217.58L515.55 217.86L522.52 218.21L529.05 218.64L535.15 219.16L540.38 219.72L545.61 220.41L550.40 221.19L554.76 222.05L558.68 222.97L562.60 224.07L566.09 225.24L569.57 226.62L572.62 228.05L575.67 229.71L578.29 231.38L580.90 233.30L583.08 235.14L585.26 237.22L587.44 239.60L589.61 242.31L591.36 244.75L593.10 247.47L594.84 250.49L596.59 253.85L597.89 256.60L599.20 259.57L600.94 263.86L603.56 270.96L608.35 285.15L609.66 288.81L610.53 291.03L611.40 293.01L612.27 294.63L612.71 295.27L613.14 295.76L613.58 296.06L614.01 296.15L614.45 296.01L614.88 295.68L615.76 294.56L616.63 293.03L617.93 290.19L620.11 284.56L626.21 267.41L627.08 265.20L628.39 262.25L630.13 258.80L632.31 254.93L633.62 252.93L634.93 251.32L636.67 249.61L638.41 248.16L640.59 246.61L643.20 245.02L645.82 243.67L649.30 242.09L651.48 241.17L656.27 239.28L658.45 238.29L660.63 237.09L666.29 233.60L670.22 231.40L674.14 229.30" stroke="#4e9e42" stroke-width="1.50"/>
</g>
<rect x="491.15" y="207.50" width="191.70" height="142.85" fill="none" stroke="#333333" stroke-width="1.3"/>
<path d="M499.86 350.35V347.35M543.43 350.35V347.35M587.00 350.35V347.35M630.57 350.35V347.35M674.14 350.35V347.35M521.65 350.35V348.45M565.22 350.35V348.45M608.78 350.35V348.45M652.35 350.35V348.45M491.15 341.40H494.15M491.15 315.98H494.15M491.15 290.56H494.15M491.15 265.14H494.15M491.15 239.72H494.15M491.15 214.30H494.15" stroke="#333333" stroke-width="0.95" fill="none"/>
<text x="488.35" y="344.80" font-size="9.80" text-anchor="end" font-weight="normal" font-style="normal" font-family='"Liberation Sans", sans-serif' fill="#1a1a1a" textLength="12.70" lengthAdjust="spacingAndGlyphs">0.0</text>
<text x="488.35" y="319.38" font-size="9.80" text-anchor="end" font-weight="normal" font-style="normal" font-family='"Liberation Sans", sans-serif' fill="#1a1a1a" textLength="12.70" lengthAdjust="spacingAndGlyphs">0.2</text>
<text x="488.35" y="293.96" font-size="9.80" text-anchor="end" font-weight="normal" font-style="normal" font-family='"Liberation Sans", sans-serif' fill="#1a1a1a" textLength="12.70" lengthAdjust="spacingAndGlyphs">0.4</text>
<text x="488.35" y="268.54" font-size="9.80" text-anchor="end" font-weight="normal" font-style="normal" font-family='"Liberation Sans", sans-serif' fill="#1a1a1a" textLength="12.70" lengthAdjust="spacingAndGlyphs">0.6</text>
<text x="488.35" y="243.12" font-size="9.80" text-anchor="end" font-weight="normal" font-style="normal" font-family='"Liberation Sans", sans-serif' fill="#1a1a1a" textLength="12.70" lengthAdjust="spacingAndGlyphs">0.8</text>
<text x="488.35" y="217.70" font-size="9.80" text-anchor="end" font-weight="normal" font-style="normal" font-family='"Liberation Sans", sans-serif' fill="#1a1a1a" textLength="12.70" lengthAdjust="spacingAndGlyphs">1.0</text>
<text x="499.86" y="359.35" font-size="9.80" text-anchor="middle" font-weight="normal" font-style="normal" font-family='"Liberation Sans", sans-serif' fill="#1a1a1a" textLength="10.00" lengthAdjust="spacingAndGlyphs">60</text>
<text x="543.43" y="359.35" font-size="9.80" text-anchor="middle" font-weight="normal" font-style="normal" font-family='"Liberation Sans", sans-serif' fill="#1a1a1a" textLength="10.00" lengthAdjust="spacingAndGlyphs">70</text>
<text x="587.00" y="359.35" font-size="9.80" text-anchor="middle" font-weight="normal" font-style="normal" font-family='"Liberation Sans", sans-serif' fill="#1a1a1a" textLength="10.00" lengthAdjust="spacingAndGlyphs">80</text>
<text x="630.57" y="359.35" font-size="9.80" text-anchor="middle" font-weight="normal" font-style="normal" font-family='"Liberation Sans", sans-serif' fill="#1a1a1a" textLength="10.00" lengthAdjust="spacingAndGlyphs">90</text>
<text x="674.14" y="359.35" font-size="9.80" text-anchor="middle" font-weight="normal" font-style="normal" font-family='"Liberation Sans", sans-serif' fill="#1a1a1a" textLength="15.30" lengthAdjust="spacingAndGlyphs">100</text>
<text x="587.00" y="370.30" font-size="8.60" text-anchor="middle" font-weight="normal" font-style="normal" font-family='"Liberation Sans", sans-serif' fill="#1a1a1a" textLength="63.50" lengthAdjust="spacingAndGlyphs" stroke="#1a1a1a" stroke-width="0.28">Frequency (THz)</text>
<text transform="translate(470.55 278.93) rotate(-90)" font-size="8.6" text-anchor="middle" font-family='"Liberation Sans", sans-serif' fill="#1a1a1a" stroke="#1a1a1a" stroke-width="0.28" textLength="46.5" lengthAdjust="spacingAndGlyphs">Reflectance</text>
<g clip-path="url(#cpc2)" fill="none" stroke-linejoin="round" stroke-linecap="butt">
<path d="M500.15 457.84L504.51 478.72L505.82 484.24L506.69 487.18L507.13 488.34L507.56 489.25L508.00 489.90L508.43 490.26L508.87 490.34L509.30 490.14L509.74 489.70L510.17 489.03L511.05 487.12L511.92 484.58L512.79 481.57L513.66 478.26L518.02 460.75L519.32 455.86L520.63 451.28L522.37 445.70L523.68 441.92L525.42 437.42L527.17 433.48L528.91 430.06L531.09 426.39L532.83 423.89L535.01 421.21L537.19 418.95L538.49 417.76L539.80 416.68L542.42 414.81L543.72 414.00L545.47 413.02L548.08 411.76L551.13 410.54L554.61 409.41L558.10 408.50L561.59 407.77L565.51 407.14L569.86 406.61L574.22 406.26L578.58 406.05L583.37 405.95L598.62 406.05L604.28 406.02L620.84 405.57L624.32 405.62L631.73 405.98L635.22 406.04L638.70 405.89L647.41 405.08L652.21 404.83L658.74 404.79L671.52 404.99" stroke="#f0843a" stroke-width="1.20" stroke-dasharray="3.7 1.65" stroke-opacity="0.75"/>
<path d="M499.86 515.61L503.78 513.63L506.83 512.31L509.45 511.46L510.76 511.16L512.06 510.94L513.81 510.77L515.55 510.67L525.57 510.44L529.05 510.30L540.38 509.38L546.05 508.99L549.10 508.90L551.27 508.96L553.45 509.17L555.63 509.52L558.68 510.17L561.73 510.94L565.22 512.03L571.32 514.39L573.93 515.30L577.85 516.42L582.64 517.60L590.92 519.40L597.89 520.77L603.56 521.72L610.96 522.79L615.76 523.38L620.11 523.78L625.34 524.08L635.80 524.57L646.25 524.96L655.84 525.22L664.99 525.38L674.14 525.44" stroke="#4d7cbf" stroke-width="1.20" stroke-dasharray="3.7 1.65" stroke-opacity="0.75"/>
<path d="M499.86 410.89L502.48 411.43L504.66 412.01L507.27 412.84L510.32 413.95L513.37 415.18L515.55 416.17L517.73 417.31L519.91 418.60L522.52 420.32L524.70 421.90L526.44 423.32L528.18 424.89L529.93 426.62L531.67 428.52L533.41 430.63L535.15 432.98L536.46 434.91L537.77 437.01L539.08 439.32L539.95 441.02L540.82 442.89L542.12 445.96L545.17 453.81L548.22 462.30L550.40 469.18L551.71 474.02L554.32 484.56L556.07 490.46L556.94 492.79L557.37 493.62L557.81 494.11L558.25 494.21L558.68 493.90L559.12 493.19L559.55 492.13L559.99 490.83L567.39 465.78L570.01 457.48L570.88 455.01L572.19 451.65L574.80 445.68L576.54 442.10L578.29 438.86L580.03 435.99L582.21 432.85L584.82 429.52L587.00 427.07L589.18 424.91L591.79 422.70L594.41 420.84L597.02 419.25L599.63 417.88L603.12 416.30L606.61 414.90L610.09 413.70L613.58 412.70L617.50 411.76L623.60 410.53L630.57 409.36L634.49 408.80L643.64 407.64L654.10 406.11L663.68 404.92L667.17 404.54L670.65 404.31L674.14 404.25" stroke="#4e9e42" stroke-width="1.20" stroke-dasharray="3.7 1.65" stroke-opacity="0.75"/>
<path d="M499.86 453.67L502.04 458.66L503.78 462.36L505.96 466.80L506.83 468.35L507.27 469.00L507.71 469.56L508.58 470.47L509.45 471.13L509.88 471.32L510.32 471.39L510.76 471.33L511.19 471.14L511.63 470.85L512.50 470.04L513.37 468.91L513.81 468.18L514.68 466.38L516.42 462.03L519.03 454.31L520.34 450.80L522.08 446.56L523.83 442.86L525.57 439.76L527.75 436.40L530.80 432.25L533.41 429.05L536.03 426.23L539.08 423.28L541.69 421.07L543.87 419.58L546.05 418.40L550.84 416.12L555.63 413.48L557.81 412.38L562.17 410.51L563.91 409.88L565.22 409.48L567.83 408.85L570.44 408.32L573.49 407.81L576.54 407.39L583.95 406.63L592.23 406.15L606.61 405.55L624.47 405.04L652.35 404.43L674.14 404.12" stroke="#f0843a" stroke-width="1.20" stroke-dasharray="3.7 1.65" stroke-opacity="0.62"/>
<path d="M499.86 516.25L502.91 514.83L505.53 513.86L506.83 513.50L508.14 513.22L511.19 512.84L514.68 512.63L518.16 512.58L521.65 512.66L530.36 513.04L538.64 513.25L544.30 513.28L549.53 513.11L556.07 512.63L565.22 511.71L569.14 511.16L577.42 509.79L584.82 508.86L589.18 508.48L592.23 508.43L593.97 508.56L595.28 508.76L597.02 509.13L598.76 509.62L607.91 512.66L616.19 515.64L620.11 516.85L627.52 518.71L631.00 519.48L634.49 520.18L637.97 520.76L641.90 521.29L648.87 522.02L655.40 522.62L660.19 522.99L664.99 523.28L669.34 523.44L674.14 523.52" stroke="#4d7cbf" stroke-width="1.20" stroke-dasharray="3.7 1.65" stroke-opacity="0.62"/>
<path d="M499.86 406.42L532.10 408.91L535.15 409.25L537.33 409.57L539.51 410.01L542.12 410.70L545.17 411.68L548.66 413.03L551.27 414.18L553.45 415.40L555.63 416.89L558.25 418.96L562.60 422.77L566.09 425.99L568.70 428.67L571.32 431.74L573.49 434.71L575.24 437.58L576.54 440.08L577.85 442.82L582.21 452.61L585.69 460.03L587.00 463.07L587.87 465.34L588.74 467.91L589.61 470.98L590.05 472.80L590.92 477.02L593.10 488.67L593.97 492.97L594.84 496.87L595.28 498.50L595.71 499.78L596.15 500.63L596.59 501.02L597.02 500.94L597.46 500.43L597.89 499.58L598.33 498.45L600.94 490.17L603.99 481.23L606.17 474.61L610.96 458.86L611.83 456.26L613.14 452.73L616.19 445.55L617.93 441.79L619.24 439.16L620.55 436.72L621.85 434.51L623.16 432.55L624.47 430.86L626.65 428.49L628.83 426.42L631.44 424.21L634.05 422.27L636.67 420.53L639.72 418.70L644.07 416.31L647.56 414.54L650.61 413.15L653.66 411.93L656.27 411.03L660.19 409.87L664.12 408.84L667.60 408.06L671.09 407.44L674.14 407.06" stroke="#4e9e42" stroke-width="1.20" stroke-dasharray="3.7 1.65" stroke-opacity="0.62"/>
<path d="M500.08 454.59L504.87 476.63L505.75 480.32L506.62 483.56L507.49 486.16L507.92 487.16L508.36 487.93L508.80 488.44L509.23 488.68L509.67 488.68L510.10 488.43L510.54 487.96L510.97 487.30L511.84 485.47L512.72 483.07L513.59 480.25L514.46 477.12L519.69 456.90L521.87 449.35L523.17 445.26L524.92 440.36L526.22 437.07L527.97 433.18L529.71 429.79L531.89 426.17L533.63 423.70L535.81 421.05L537.99 418.81L539.29 417.64L540.60 416.57L543.21 414.72L544.52 413.92L546.26 412.95L548.88 411.71L551.49 410.67L554.11 409.80L557.16 408.96L560.21 408.29L563.26 407.77L566.31 407.38L569.79 407.09L572.84 406.96L576.33 406.92L589.83 407.28L593.32 407.29L596.37 407.22L599.42 407.07L602.90 406.80L615.97 405.48L621.20 405.20L625.56 405.25L632.96 405.70L636.45 405.79L639.94 405.68L648.21 405.01L653.01 404.80L659.54 404.78L672.18 404.99" stroke="#f0843a" stroke-width="1.20" stroke-dasharray="3.7 1.65" stroke-opacity="0.50"/>
<path d="M499.86 515.61L502.04 514.18L503.35 513.41L505.09 512.54L506.83 511.84L508.58 511.29L510.76 510.76L512.93 510.42L515.11 510.24L516.86 510.21L518.16 510.26L519.47 510.37L521.21 510.62L523.83 511.13L537.33 514.05L539.95 514.51L543.00 514.91L548.66 515.46L553.45 515.76L557.81 515.85L563.47 515.79L573.93 515.54L580.46 515.31L585.26 515.03L590.49 514.56L602.25 513.23L610.09 512.17L614.45 511.41L622.73 509.64L626.65 508.99L633.18 508.24L635.80 508.06L637.97 508.02L640.15 508.11L642.77 508.43L645.82 509.00L650.17 509.97L654.10 511.01L664.12 514.02L674.14 516.76" stroke="#4d7cbf" stroke-width="1.20" stroke-dasharray="3.7 1.65" stroke-opacity="0.50"/>
<path d="M500.44 404.42L511.77 404.67L521.79 404.99L530.94 405.37L539.22 405.83L546.63 406.35L553.60 406.97L560.13 407.70L565.80 408.49L571.03 409.38L575.82 410.38L580.17 411.48L584.53 412.80L588.45 414.24L591.94 415.77L595.42 417.59L598.47 419.48L601.09 421.37L603.70 423.56L606.32 426.11L608.49 428.56L610.67 431.37L612.41 433.90L614.59 437.49L616.34 440.74L618.08 444.36L619.82 448.39L621.13 451.70L622.87 456.50L625.49 464.45L631.15 483.06L633.33 489.47L634.63 492.70L635.51 494.49L635.94 495.26L636.81 496.47L637.25 496.91L637.68 497.16L638.56 497.08L639.43 496.21L639.86 495.59L640.73 494.05L642.04 490.79L643.35 486.95L644.66 482.70L650.32 462.61L653.37 452.50L654.68 448.82L655.98 445.43L657.29 442.29L659.03 438.48L661.21 434.24L663.39 430.55L665.57 427.32L666.88 425.59L668.18 423.98L670.80 421.04L671.23 420.79L672.10 420.62L674.14 420.47" stroke="#4e9e42" stroke-width="1.20" stroke-dasharray="3.7 1.65" stroke-opacity="0.50"/>
<path d="M499.86 445.90L502.04 454.54L506.40 474.15L507.27 477.83L508.14 481.14L509.01 483.92L509.88 486.02L510.32 486.75L510.76 487.24L511.19 487.43L511.63 487.45L512.06 487.17L512.50 486.74L513.37 485.36L514.24 483.40L515.11 480.97L516.86 475.09L522.08 455.27L524.26 447.90L525.57 443.93L527.31 439.18L528.62 436.01L530.36 432.25L532.10 428.98L534.28 425.49L536.03 423.11L538.20 420.55L540.38 418.39L541.69 417.25L543.00 416.22L545.61 414.43L548.66 412.71L551.71 411.31L555.20 410.01L559.12 408.85L563.47 407.84L568.27 406.98L573.49 406.28L579.16 405.70L585.69 405.22L591.79 404.91L598.76 404.66L606.61 404.49L614.45 404.41L619.68 404.45L624.03 404.61L627.52 404.87L634.49 405.54L638.41 405.73L641.90 405.64L650.17 405.00L654.97 404.79L661.50 404.78L674.14 404.99" stroke="#f0843a" stroke-width="1.50"/>
<path d="M499.86 516.88L502.04 515.45L503.35 514.69L505.09 513.82L506.83 513.12L508.58 512.56L510.76 512.04L512.93 511.70L515.11 511.52L516.86 511.49L518.16 511.53L519.47 511.65L521.21 511.90L523.83 512.41L537.33 515.33L539.95 515.79L543.00 516.19L548.66 516.74L553.45 517.04L557.81 517.12L563.47 517.06L573.93 516.82L580.46 516.59L585.26 516.31L590.49 515.83L602.25 514.51L610.09 513.45L614.45 512.69L622.73 510.91L626.65 510.26L633.18 509.52L635.80 509.34L637.97 509.30L640.15 509.39L642.77 509.71L645.82 510.28L650.17 511.24L654.10 512.28L664.12 515.29L674.14 518.03" stroke="#4d7cbf" stroke-width="1.50"/>
<path d="M499.86 404.40L504.22 404.68L510.76 405.46L513.37 405.66L515.98 405.66L522.52 405.22L526.00 405.13L531.23 405.26L539.95 405.69L547.79 406.20L555.20 406.83L561.73 407.52L567.83 408.34L573.49 409.28L578.29 410.25L583.08 411.44L587.44 412.76L591.36 414.19L595.28 415.91L598.76 417.76L601.81 419.68L604.86 421.95L607.48 424.23L610.09 426.89L612.27 429.46L614.45 432.39L616.63 435.75L618.80 439.61L620.55 443.11L622.29 447.01L624.03 451.34L625.78 456.14L627.08 460.04L628.39 464.20L630.13 470.10L635.36 488.74L637.10 494.23L637.97 496.56L638.85 498.53L639.72 500.02L640.15 500.54L640.59 500.94L641.46 500.94L641.90 500.62L642.33 500.10L643.20 498.64L643.64 497.73L644.95 494.39L645.82 491.77L647.12 487.43L651.92 470.21L654.53 461.43L656.27 456.11L657.58 452.43L658.89 449.00L660.63 444.83L661.94 441.97L663.68 438.51L664.99 436.15L666.73 433.29L668.47 430.72L670.22 428.41L671.96 426.33L674.14 424.02" stroke="#4e9e42" stroke-width="1.50"/>
</g>
<rect x="491.15" y="393.35" width="191.70" height="142.75" fill="none" stroke="#333333" stroke-width="1.3"/>
<path d="M499.86 536.10V533.10M543.43 536.10V533.10M587.00 536.10V533.10M630.57 536.10V533.10M674.14 536.10V533.10M521.65 536.10V534.20M565.22 536.10V534.20M608.78 536.10V534.20M652.35 536.10V534.20M491.15 527.10H494.15M491.15 501.56H494.15M491.15 476.02H494.15M491.15 450.48H494.15M491.15 424.94H494.15M491.15 399.40H494.15" stroke="#333333" stroke-width="0.95" fill="none"/>
<text x="488.35" y="530.50" font-size="9.80" text-anchor="end" font-weight="normal" font-style="normal" font-family='"Liberation Sans", sans-serif' fill="#1a1a1a" textLength="12.70" lengthAdjust="spacingAndGlyphs">0.0</text>
<text x="488.35" y="504.96" font-size="9.80" text-anchor="end" font-weight="normal" font-style="normal" font-family='"Liberation Sans", sans-serif' fill="#1a1a1a" textLength="12.70" lengthAdjust="spacingAndGlyphs">0.2</text>
<text x="488.35" y="479.42" font-size="9.80" text-anchor="end" font-weight="normal" font-style="normal" font-family='"Liberation Sans", sans-serif' fill="#1a1a1a" textLength="12.70" lengthAdjust="spacingAndGlyphs">0.4</text>
<text x="488.35" y="453.88" font-size="9.80" text-anchor="end" font-weight="normal" font-style="normal" font-family='"Liberation Sans", sans-serif' fill="#1a1a1a" textLength="12.70" lengthAdjust="spacingAndGlyphs">0.6</text>
<text x="488.35" y="428.34" font-size="9.80" text-anchor="end" font-weight="normal" font-style="normal" font-family='"Liberation Sans", sans-serif' fill="#1a1a1a" textLength="12.70" lengthAdjust="spacingAndGlyphs">0.8</text>
<text x="488.35" y="402.80" font-size="9.80" text-anchor="end" font-weight="normal" font-style="normal" font-family='"Liberation Sans", sans-serif' fill="#1a1a1a" textLength="12.70" lengthAdjust="spacingAndGlyphs">1.0</text>
<text x="499.86" y="545.10" font-size="9.80" text-anchor="middle" font-weight="normal" font-style="normal" font-family='"Liberation Sans", sans-serif' fill="#1a1a1a" textLength="10.00" lengthAdjust="spacingAndGlyphs">60</text>
<text x="543.43" y="545.10" font-size="9.80" text-anchor="middle" font-weight="normal" font-style="normal" font-family='"Liberation Sans", sans-serif' fill="#1a1a1a" textLength="10.00" lengthAdjust="spacingAndGlyphs">70</text>
<text x="587.00" y="545.10" font-size="9.80" text-anchor="middle" font-weight="normal" font-style="normal" font-family='"Liberation Sans", sans-serif' fill="#1a1a1a" textLength="10.00" lengthAdjust="spacingAndGlyphs">80</text>
<text x="630.57" y="545.10" font-size="9.80" text-anchor="middle" font-weight="normal" font-style="normal" font-family='"Liberation Sans", sans-serif' fill="#1a1a1a" textLength="10.00" lengthAdjust="spacingAndGlyphs">90</text>
<text x="674.14" y="545.10" font-size="9.80" text-anchor="middle" font-weight="normal" font-style="normal" font-family='"Liberation Sans", sans-serif' fill="#1a1a1a" textLength="15.30" lengthAdjust="spacingAndGlyphs">100</text>
<text x="587.00" y="555.00" font-size="8.60" text-anchor="middle" font-weight="normal" font-style="normal" font-family='"Liberation Sans", sans-serif' fill="#1a1a1a" textLength="63.50" lengthAdjust="spacingAndGlyphs" stroke="#1a1a1a" stroke-width="0.28">Frequency (THz)</text>
<text transform="translate(470.55 464.73) rotate(-90)" font-size="8.6" text-anchor="middle" font-family='"Liberation Sans", sans-serif' fill="#1a1a1a" stroke="#1a1a1a" stroke-width="0.28" textLength="46.5" lengthAdjust="spacingAndGlyphs">Reflectance</text>
</svg></body></html>
